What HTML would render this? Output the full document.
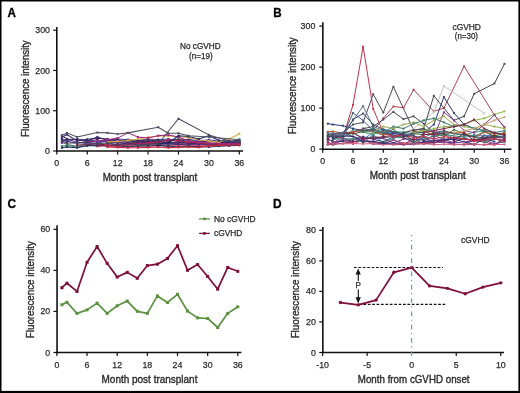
<!DOCTYPE html>
<html><head><meta charset="utf-8"><style>
html,body{margin:0;padding:0;background:#fff;width:520px;height:393px;overflow:hidden;}
svg{display:block;font-family:"Liberation Sans", sans-serif;will-change:transform;}
</style></head><body>
<svg width="520" height="393" viewBox="0 0 520 393" font-family='"Liberation Sans", sans-serif'>
<rect x="0" y="0" width="520" height="393" fill="#fff"/>
<polyline points="117.64,140.93 127.78,139.72 137.92,140.53 148.06,138.92 158.2,139.72 168.34,140.53 178.48,138.92 188.62,139.72 198.76,142.14 208.9,142.95 219.04,143.35 229.18,142.95 239.32,141.34" fill="none" stroke="#7a7a5a" stroke-width="1.05" stroke-linejoin="round" opacity="1.0"/>
<rect x="116.64" y="139.93" width="2" height="2" fill="#7a7a5a" opacity="1.0"/>
<rect x="126.78" y="138.72" width="2" height="2" fill="#7a7a5a" opacity="1.0"/>
<rect x="136.92" y="139.53" width="2" height="2" fill="#7a7a5a" opacity="1.0"/>
<rect x="147.06" y="137.92" width="2" height="2" fill="#7a7a5a" opacity="1.0"/>
<rect x="157.2" y="138.72" width="2" height="2" fill="#7a7a5a" opacity="1.0"/>
<rect x="167.34" y="139.53" width="2" height="2" fill="#7a7a5a" opacity="1.0"/>
<rect x="177.48" y="137.92" width="2" height="2" fill="#7a7a5a" opacity="1.0"/>
<rect x="187.62" y="138.72" width="2" height="2" fill="#7a7a5a" opacity="1.0"/>
<rect x="197.76" y="141.14" width="2" height="2" fill="#7a7a5a" opacity="1.0"/>
<rect x="207.9" y="141.95" width="2" height="2" fill="#7a7a5a" opacity="1.0"/>
<rect x="218.04" y="142.35" width="2" height="2" fill="#7a7a5a" opacity="1.0"/>
<rect x="228.18" y="141.95" width="2" height="2" fill="#7a7a5a" opacity="1.0"/>
<rect x="238.32" y="140.34" width="2" height="2" fill="#7a7a5a" opacity="1.0"/>
<polyline points="61.87,142.14 66.94,144.56 77.08,146.17 87.22,144.15 97.36,145.36 107.5,143.75 117.64,144.96 127.78,144.56 137.92,143.75 148.06,145.36 158.2,144.56 168.34,144.96 178.48,144.15 188.62,145.36 198.76,144.96 208.9,144.56 219.04,145.76 229.18,145.36 239.32,144.56" fill="none" stroke="#606070" stroke-width="1.05" stroke-linejoin="round" opacity="1.0"/>
<rect x="60.87" y="141.14" width="2" height="2" fill="#606070" opacity="1.0"/>
<rect x="65.94" y="143.56" width="2" height="2" fill="#606070" opacity="1.0"/>
<rect x="76.08" y="145.17" width="2" height="2" fill="#606070" opacity="1.0"/>
<rect x="86.22" y="143.15" width="2" height="2" fill="#606070" opacity="1.0"/>
<rect x="96.36" y="144.36" width="2" height="2" fill="#606070" opacity="1.0"/>
<rect x="106.5" y="142.75" width="2" height="2" fill="#606070" opacity="1.0"/>
<rect x="116.64" y="143.96" width="2" height="2" fill="#606070" opacity="1.0"/>
<rect x="126.78" y="143.56" width="2" height="2" fill="#606070" opacity="1.0"/>
<rect x="136.92" y="142.75" width="2" height="2" fill="#606070" opacity="1.0"/>
<rect x="147.06" y="144.36" width="2" height="2" fill="#606070" opacity="1.0"/>
<rect x="157.2" y="143.56" width="2" height="2" fill="#606070" opacity="1.0"/>
<rect x="167.34" y="143.96" width="2" height="2" fill="#606070" opacity="1.0"/>
<rect x="177.48" y="143.15" width="2" height="2" fill="#606070" opacity="1.0"/>
<rect x="187.62" y="144.36" width="2" height="2" fill="#606070" opacity="1.0"/>
<rect x="197.76" y="143.96" width="2" height="2" fill="#606070" opacity="1.0"/>
<rect x="207.9" y="143.56" width="2" height="2" fill="#606070" opacity="1.0"/>
<rect x="218.04" y="144.76" width="2" height="2" fill="#606070" opacity="1.0"/>
<rect x="228.18" y="144.36" width="2" height="2" fill="#606070" opacity="1.0"/>
<rect x="238.32" y="143.56" width="2" height="2" fill="#606070" opacity="1.0"/>
<polyline points="61.87,146.17 66.94,145.36 77.08,146.97 87.22,145.36 97.36,146.17 107.5,144.96 117.64,146.17 127.78,145.36 137.92,146.17 148.06,144.96 158.2,145.76 178.48,145.36 198.76,146.17 208.9,144.96 229.18,142.14 239.32,139.32" fill="none" stroke="#3a8a70" stroke-width="1.05" stroke-linejoin="round" opacity="1.0"/>
<rect x="60.87" y="145.17" width="2" height="2" fill="#3a8a70" opacity="1.0"/>
<rect x="65.94" y="144.36" width="2" height="2" fill="#3a8a70" opacity="1.0"/>
<rect x="76.08" y="145.97" width="2" height="2" fill="#3a8a70" opacity="1.0"/>
<rect x="86.22" y="144.36" width="2" height="2" fill="#3a8a70" opacity="1.0"/>
<rect x="96.36" y="145.17" width="2" height="2" fill="#3a8a70" opacity="1.0"/>
<rect x="106.5" y="143.96" width="2" height="2" fill="#3a8a70" opacity="1.0"/>
<rect x="116.64" y="145.17" width="2" height="2" fill="#3a8a70" opacity="1.0"/>
<rect x="126.78" y="144.36" width="2" height="2" fill="#3a8a70" opacity="1.0"/>
<rect x="136.92" y="145.17" width="2" height="2" fill="#3a8a70" opacity="1.0"/>
<rect x="147.06" y="143.96" width="2" height="2" fill="#3a8a70" opacity="1.0"/>
<rect x="157.2" y="144.76" width="2" height="2" fill="#3a8a70" opacity="1.0"/>
<rect x="177.48" y="144.36" width="2" height="2" fill="#3a8a70" opacity="1.0"/>
<rect x="197.76" y="145.17" width="2" height="2" fill="#3a8a70" opacity="1.0"/>
<rect x="207.9" y="143.96" width="2" height="2" fill="#3a8a70" opacity="1.0"/>
<rect x="228.18" y="141.14" width="2" height="2" fill="#3a8a70" opacity="1.0"/>
<rect x="238.32" y="138.32" width="2" height="2" fill="#3a8a70" opacity="1.0"/>
<polyline points="117.64,146.17 127.78,145.36 137.92,146.17 148.06,145.76 158.2,144.96 168.34,146.17 178.48,145.36 188.62,146.17 198.76,145.36 208.9,145.76 219.04,144.96 229.18,144.56 239.32,144.15" fill="none" stroke="#e06080" stroke-width="1.05" stroke-linejoin="round" opacity="1.0"/>
<rect x="116.64" y="145.17" width="2" height="2" fill="#e06080" opacity="1.0"/>
<rect x="126.78" y="144.36" width="2" height="2" fill="#e06080" opacity="1.0"/>
<rect x="136.92" y="145.17" width="2" height="2" fill="#e06080" opacity="1.0"/>
<rect x="147.06" y="144.76" width="2" height="2" fill="#e06080" opacity="1.0"/>
<rect x="157.2" y="143.96" width="2" height="2" fill="#e06080" opacity="1.0"/>
<rect x="167.34" y="145.17" width="2" height="2" fill="#e06080" opacity="1.0"/>
<rect x="177.48" y="144.36" width="2" height="2" fill="#e06080" opacity="1.0"/>
<rect x="187.62" y="145.17" width="2" height="2" fill="#e06080" opacity="1.0"/>
<rect x="197.76" y="144.36" width="2" height="2" fill="#e06080" opacity="1.0"/>
<rect x="207.9" y="144.76" width="2" height="2" fill="#e06080" opacity="1.0"/>
<rect x="218.04" y="143.96" width="2" height="2" fill="#e06080" opacity="1.0"/>
<rect x="228.18" y="143.56" width="2" height="2" fill="#e06080" opacity="1.0"/>
<rect x="238.32" y="143.15" width="2" height="2" fill="#e06080" opacity="1.0"/>
<polyline points="127.78,142.95 137.92,142.14 148.06,140.93 158.2,142.14 168.34,140.53 178.48,141.34 188.62,142.95 198.76,142.14 208.9,143.75 219.04,142.95 229.18,141.34 239.32,140.93" fill="none" stroke="#7a4a3a" stroke-width="1.05" stroke-linejoin="round" opacity="1.0"/>
<rect x="126.78" y="141.95" width="2" height="2" fill="#7a4a3a" opacity="1.0"/>
<rect x="136.92" y="141.14" width="2" height="2" fill="#7a4a3a" opacity="1.0"/>
<rect x="147.06" y="139.93" width="2" height="2" fill="#7a4a3a" opacity="1.0"/>
<rect x="157.2" y="141.14" width="2" height="2" fill="#7a4a3a" opacity="1.0"/>
<rect x="167.34" y="139.53" width="2" height="2" fill="#7a4a3a" opacity="1.0"/>
<rect x="177.48" y="140.34" width="2" height="2" fill="#7a4a3a" opacity="1.0"/>
<rect x="187.62" y="141.95" width="2" height="2" fill="#7a4a3a" opacity="1.0"/>
<rect x="197.76" y="141.14" width="2" height="2" fill="#7a4a3a" opacity="1.0"/>
<rect x="207.9" y="142.75" width="2" height="2" fill="#7a4a3a" opacity="1.0"/>
<rect x="218.04" y="141.95" width="2" height="2" fill="#7a4a3a" opacity="1.0"/>
<rect x="228.18" y="140.34" width="2" height="2" fill="#7a4a3a" opacity="1.0"/>
<rect x="238.32" y="139.93" width="2" height="2" fill="#7a4a3a" opacity="1.0"/>
<polyline points="77.08,144.96 87.22,144.56 97.36,143.75 107.5,145.36 117.64,144.56 127.78,143.75 137.92,144.96 148.06,144.15 158.2,143.35 168.34,142.54 178.48,143.75 188.62,144.56 198.76,144.15 208.9,144.96 219.04,145.36 229.18,144.56 239.32,143.75" fill="none" stroke="#802040" stroke-width="1.05" stroke-linejoin="round" opacity="1.0"/>
<rect x="76.08" y="143.96" width="2" height="2" fill="#802040" opacity="1.0"/>
<rect x="86.22" y="143.56" width="2" height="2" fill="#802040" opacity="1.0"/>
<rect x="96.36" y="142.75" width="2" height="2" fill="#802040" opacity="1.0"/>
<rect x="106.5" y="144.36" width="2" height="2" fill="#802040" opacity="1.0"/>
<rect x="116.64" y="143.56" width="2" height="2" fill="#802040" opacity="1.0"/>
<rect x="126.78" y="142.75" width="2" height="2" fill="#802040" opacity="1.0"/>
<rect x="136.92" y="143.96" width="2" height="2" fill="#802040" opacity="1.0"/>
<rect x="147.06" y="143.15" width="2" height="2" fill="#802040" opacity="1.0"/>
<rect x="157.2" y="142.35" width="2" height="2" fill="#802040" opacity="1.0"/>
<rect x="167.34" y="141.54" width="2" height="2" fill="#802040" opacity="1.0"/>
<rect x="177.48" y="142.75" width="2" height="2" fill="#802040" opacity="1.0"/>
<rect x="187.62" y="143.56" width="2" height="2" fill="#802040" opacity="1.0"/>
<rect x="197.76" y="143.15" width="2" height="2" fill="#802040" opacity="1.0"/>
<rect x="207.9" y="143.96" width="2" height="2" fill="#802040" opacity="1.0"/>
<rect x="218.04" y="144.36" width="2" height="2" fill="#802040" opacity="1.0"/>
<rect x="228.18" y="143.56" width="2" height="2" fill="#802040" opacity="1.0"/>
<rect x="238.32" y="142.75" width="2" height="2" fill="#802040" opacity="1.0"/>
<polyline points="61.87,147.78 66.94,146.97 77.08,147.78 87.22,145.76 97.36,144.96 107.5,146.17 117.64,145.36 127.78,146.97 137.92,145.76 148.06,146.17 158.2,145.36 168.34,146.17 178.48,146.97 188.62,146.17 198.76,146.57 208.9,146.97 219.04,146.17 229.18,145.76 239.32,145.36" fill="none" stroke="#2a2a5a" stroke-width="1.05" stroke-linejoin="round" opacity="1.0"/>
<rect x="60.87" y="146.78" width="2" height="2" fill="#2a2a5a" opacity="1.0"/>
<rect x="65.94" y="145.97" width="2" height="2" fill="#2a2a5a" opacity="1.0"/>
<rect x="76.08" y="146.78" width="2" height="2" fill="#2a2a5a" opacity="1.0"/>
<rect x="86.22" y="144.76" width="2" height="2" fill="#2a2a5a" opacity="1.0"/>
<rect x="96.36" y="143.96" width="2" height="2" fill="#2a2a5a" opacity="1.0"/>
<rect x="106.5" y="145.17" width="2" height="2" fill="#2a2a5a" opacity="1.0"/>
<rect x="116.64" y="144.36" width="2" height="2" fill="#2a2a5a" opacity="1.0"/>
<rect x="126.78" y="145.97" width="2" height="2" fill="#2a2a5a" opacity="1.0"/>
<rect x="136.92" y="144.76" width="2" height="2" fill="#2a2a5a" opacity="1.0"/>
<rect x="147.06" y="145.17" width="2" height="2" fill="#2a2a5a" opacity="1.0"/>
<rect x="157.2" y="144.36" width="2" height="2" fill="#2a2a5a" opacity="1.0"/>
<rect x="167.34" y="145.17" width="2" height="2" fill="#2a2a5a" opacity="1.0"/>
<rect x="177.48" y="145.97" width="2" height="2" fill="#2a2a5a" opacity="1.0"/>
<rect x="187.62" y="145.17" width="2" height="2" fill="#2a2a5a" opacity="1.0"/>
<rect x="197.76" y="145.57" width="2" height="2" fill="#2a2a5a" opacity="1.0"/>
<rect x="207.9" y="145.97" width="2" height="2" fill="#2a2a5a" opacity="1.0"/>
<rect x="218.04" y="145.17" width="2" height="2" fill="#2a2a5a" opacity="1.0"/>
<rect x="228.18" y="144.76" width="2" height="2" fill="#2a2a5a" opacity="1.0"/>
<rect x="238.32" y="144.36" width="2" height="2" fill="#2a2a5a" opacity="1.0"/>
<polyline points="61.87,142.95 66.94,138.92 77.08,142.14 87.22,143.75 97.36,142.95 107.5,140.93 117.64,142.14 127.78,142.95 137.92,143.75 158.2,142.95 178.48,143.75 198.76,144.56 219.04,143.75 239.32,144.15" fill="none" stroke="#6a3a90" stroke-width="1.05" stroke-linejoin="round" opacity="1.0"/>
<rect x="60.87" y="141.95" width="2" height="2" fill="#6a3a90" opacity="1.0"/>
<rect x="65.94" y="137.92" width="2" height="2" fill="#6a3a90" opacity="1.0"/>
<rect x="76.08" y="141.14" width="2" height="2" fill="#6a3a90" opacity="1.0"/>
<rect x="86.22" y="142.75" width="2" height="2" fill="#6a3a90" opacity="1.0"/>
<rect x="96.36" y="141.95" width="2" height="2" fill="#6a3a90" opacity="1.0"/>
<rect x="106.5" y="139.93" width="2" height="2" fill="#6a3a90" opacity="1.0"/>
<rect x="116.64" y="141.14" width="2" height="2" fill="#6a3a90" opacity="1.0"/>
<rect x="126.78" y="141.95" width="2" height="2" fill="#6a3a90" opacity="1.0"/>
<rect x="136.92" y="142.75" width="2" height="2" fill="#6a3a90" opacity="1.0"/>
<rect x="157.2" y="141.95" width="2" height="2" fill="#6a3a90" opacity="1.0"/>
<rect x="177.48" y="142.75" width="2" height="2" fill="#6a3a90" opacity="1.0"/>
<rect x="197.76" y="143.56" width="2" height="2" fill="#6a3a90" opacity="1.0"/>
<rect x="218.04" y="142.75" width="2" height="2" fill="#6a3a90" opacity="1.0"/>
<rect x="238.32" y="143.15" width="2" height="2" fill="#6a3a90" opacity="1.0"/>
<polyline points="61.87,139.72 66.94,141.34 77.08,143.35 87.22,141.34 97.36,139.72 107.5,142.14 117.64,142.95 127.78,143.75 137.92,142.95 148.06,142.14 158.2,144.15 168.34,143.75 178.48,144.56 188.62,143.75 198.76,142.95 208.9,144.96 219.04,144.15 229.18,143.75 239.32,142.95" fill="none" stroke="#4a2a70" stroke-width="1.05" stroke-linejoin="round" opacity="1.0"/>
<rect x="60.87" y="138.72" width="2" height="2" fill="#4a2a70" opacity="1.0"/>
<rect x="65.94" y="140.34" width="2" height="2" fill="#4a2a70" opacity="1.0"/>
<rect x="76.08" y="142.35" width="2" height="2" fill="#4a2a70" opacity="1.0"/>
<rect x="86.22" y="140.34" width="2" height="2" fill="#4a2a70" opacity="1.0"/>
<rect x="96.36" y="138.72" width="2" height="2" fill="#4a2a70" opacity="1.0"/>
<rect x="106.5" y="141.14" width="2" height="2" fill="#4a2a70" opacity="1.0"/>
<rect x="116.64" y="141.95" width="2" height="2" fill="#4a2a70" opacity="1.0"/>
<rect x="126.78" y="142.75" width="2" height="2" fill="#4a2a70" opacity="1.0"/>
<rect x="136.92" y="141.95" width="2" height="2" fill="#4a2a70" opacity="1.0"/>
<rect x="147.06" y="141.14" width="2" height="2" fill="#4a2a70" opacity="1.0"/>
<rect x="157.2" y="143.15" width="2" height="2" fill="#4a2a70" opacity="1.0"/>
<rect x="167.34" y="142.75" width="2" height="2" fill="#4a2a70" opacity="1.0"/>
<rect x="177.48" y="143.56" width="2" height="2" fill="#4a2a70" opacity="1.0"/>
<rect x="187.62" y="142.75" width="2" height="2" fill="#4a2a70" opacity="1.0"/>
<rect x="197.76" y="141.95" width="2" height="2" fill="#4a2a70" opacity="1.0"/>
<rect x="207.9" y="143.96" width="2" height="2" fill="#4a2a70" opacity="1.0"/>
<rect x="218.04" y="143.15" width="2" height="2" fill="#4a2a70" opacity="1.0"/>
<rect x="228.18" y="142.75" width="2" height="2" fill="#4a2a70" opacity="1.0"/>
<rect x="238.32" y="141.95" width="2" height="2" fill="#4a2a70" opacity="1.0"/>
<polyline points="61.87,138.92 66.94,140.53 77.08,138.92 87.22,140.53 97.36,142.14 107.5,140.13 117.64,138.92 127.78,139.72 137.92,140.13 148.06,141.34 158.2,139.72 168.34,138.92 178.48,140.53 188.62,139.32 198.76,140.93 208.9,139.72 219.04,141.34 229.18,142.14 239.32,140.53" fill="none" stroke="#3a3a8a" stroke-width="1.05" stroke-linejoin="round" opacity="1.0"/>
<rect x="60.87" y="137.92" width="2" height="2" fill="#3a3a8a" opacity="1.0"/>
<rect x="65.94" y="139.53" width="2" height="2" fill="#3a3a8a" opacity="1.0"/>
<rect x="76.08" y="137.92" width="2" height="2" fill="#3a3a8a" opacity="1.0"/>
<rect x="86.22" y="139.53" width="2" height="2" fill="#3a3a8a" opacity="1.0"/>
<rect x="96.36" y="141.14" width="2" height="2" fill="#3a3a8a" opacity="1.0"/>
<rect x="106.5" y="139.13" width="2" height="2" fill="#3a3a8a" opacity="1.0"/>
<rect x="116.64" y="137.92" width="2" height="2" fill="#3a3a8a" opacity="1.0"/>
<rect x="126.78" y="138.72" width="2" height="2" fill="#3a3a8a" opacity="1.0"/>
<rect x="136.92" y="139.13" width="2" height="2" fill="#3a3a8a" opacity="1.0"/>
<rect x="147.06" y="140.34" width="2" height="2" fill="#3a3a8a" opacity="1.0"/>
<rect x="157.2" y="138.72" width="2" height="2" fill="#3a3a8a" opacity="1.0"/>
<rect x="167.34" y="137.92" width="2" height="2" fill="#3a3a8a" opacity="1.0"/>
<rect x="177.48" y="139.53" width="2" height="2" fill="#3a3a8a" opacity="1.0"/>
<rect x="187.62" y="138.32" width="2" height="2" fill="#3a3a8a" opacity="1.0"/>
<rect x="197.76" y="139.93" width="2" height="2" fill="#3a3a8a" opacity="1.0"/>
<rect x="207.9" y="138.72" width="2" height="2" fill="#3a3a8a" opacity="1.0"/>
<rect x="218.04" y="140.34" width="2" height="2" fill="#3a3a8a" opacity="1.0"/>
<rect x="228.18" y="141.14" width="2" height="2" fill="#3a3a8a" opacity="1.0"/>
<rect x="238.32" y="139.53" width="2" height="2" fill="#3a3a8a" opacity="1.0"/>
<polyline points="61.87,135.7 66.94,138.92 77.08,139.72 87.22,140.93 97.36,136.91 107.5,140.53 117.64,139.72 127.78,142.14 137.92,140.93 148.06,139.72 158.2,140.53 168.34,141.34 178.48,139.72 188.62,141.34 198.76,142.14 208.9,140.93 219.04,142.14 229.18,142.95 239.32,142.54" fill="none" stroke="#3a2a60" stroke-width="1.05" stroke-linejoin="round" opacity="1.0"/>
<rect x="60.87" y="134.7" width="2" height="2" fill="#3a2a60" opacity="1.0"/>
<rect x="65.94" y="137.92" width="2" height="2" fill="#3a2a60" opacity="1.0"/>
<rect x="76.08" y="138.72" width="2" height="2" fill="#3a2a60" opacity="1.0"/>
<rect x="86.22" y="139.93" width="2" height="2" fill="#3a2a60" opacity="1.0"/>
<rect x="96.36" y="135.91" width="2" height="2" fill="#3a2a60" opacity="1.0"/>
<rect x="106.5" y="139.53" width="2" height="2" fill="#3a2a60" opacity="1.0"/>
<rect x="116.64" y="138.72" width="2" height="2" fill="#3a2a60" opacity="1.0"/>
<rect x="126.78" y="141.14" width="2" height="2" fill="#3a2a60" opacity="1.0"/>
<rect x="136.92" y="139.93" width="2" height="2" fill="#3a2a60" opacity="1.0"/>
<rect x="147.06" y="138.72" width="2" height="2" fill="#3a2a60" opacity="1.0"/>
<rect x="157.2" y="139.53" width="2" height="2" fill="#3a2a60" opacity="1.0"/>
<rect x="167.34" y="140.34" width="2" height="2" fill="#3a2a60" opacity="1.0"/>
<rect x="177.48" y="138.72" width="2" height="2" fill="#3a2a60" opacity="1.0"/>
<rect x="187.62" y="140.34" width="2" height="2" fill="#3a2a60" opacity="1.0"/>
<rect x="197.76" y="141.14" width="2" height="2" fill="#3a2a60" opacity="1.0"/>
<rect x="207.9" y="139.93" width="2" height="2" fill="#3a2a60" opacity="1.0"/>
<rect x="218.04" y="141.14" width="2" height="2" fill="#3a2a60" opacity="1.0"/>
<rect x="228.18" y="141.95" width="2" height="2" fill="#3a2a60" opacity="1.0"/>
<rect x="238.32" y="141.54" width="2" height="2" fill="#3a2a60" opacity="1.0"/>
<polyline points="61.87,137.31 66.94,134.49 77.08,140.93 87.22,139.32 97.36,138.11 107.5,138.92 117.64,141.34 127.78,140.53 137.92,142.14 148.06,140.93 158.2,141.74 168.34,142.95 178.48,142.14 188.62,142.95 198.76,143.75 208.9,142.95 219.04,143.75 229.18,142.95 239.32,142.14" fill="none" stroke="#3d2a66" stroke-width="1.05" stroke-linejoin="round" opacity="1.0"/>
<rect x="60.87" y="136.31" width="2" height="2" fill="#3d2a66" opacity="1.0"/>
<rect x="65.94" y="133.49" width="2" height="2" fill="#3d2a66" opacity="1.0"/>
<rect x="76.08" y="139.93" width="2" height="2" fill="#3d2a66" opacity="1.0"/>
<rect x="86.22" y="138.32" width="2" height="2" fill="#3d2a66" opacity="1.0"/>
<rect x="96.36" y="137.11" width="2" height="2" fill="#3d2a66" opacity="1.0"/>
<rect x="106.5" y="137.92" width="2" height="2" fill="#3d2a66" opacity="1.0"/>
<rect x="116.64" y="140.34" width="2" height="2" fill="#3d2a66" opacity="1.0"/>
<rect x="126.78" y="139.53" width="2" height="2" fill="#3d2a66" opacity="1.0"/>
<rect x="136.92" y="141.14" width="2" height="2" fill="#3d2a66" opacity="1.0"/>
<rect x="147.06" y="139.93" width="2" height="2" fill="#3d2a66" opacity="1.0"/>
<rect x="157.2" y="140.74" width="2" height="2" fill="#3d2a66" opacity="1.0"/>
<rect x="167.34" y="141.95" width="2" height="2" fill="#3d2a66" opacity="1.0"/>
<rect x="177.48" y="141.14" width="2" height="2" fill="#3d2a66" opacity="1.0"/>
<rect x="187.62" y="141.95" width="2" height="2" fill="#3d2a66" opacity="1.0"/>
<rect x="197.76" y="142.75" width="2" height="2" fill="#3d2a66" opacity="1.0"/>
<rect x="207.9" y="141.95" width="2" height="2" fill="#3d2a66" opacity="1.0"/>
<rect x="218.04" y="142.75" width="2" height="2" fill="#3d2a66" opacity="1.0"/>
<rect x="228.18" y="141.95" width="2" height="2" fill="#3d2a66" opacity="1.0"/>
<rect x="238.32" y="141.14" width="2" height="2" fill="#3d2a66" opacity="1.0"/>
<polyline points="97.36,146.17 107.5,145.36 117.64,146.17 127.78,144.56 137.92,143.75 148.06,142.95 158.2,142.14 168.34,139.72 178.48,140.93 188.62,142.14 198.76,142.95 208.9,143.75 219.04,144.15 229.18,143.75 239.32,143.35" fill="none" stroke="#b02050" stroke-width="1.05" stroke-linejoin="round" opacity="1.0"/>
<rect x="96.36" y="145.17" width="2" height="2" fill="#b02050" opacity="1.0"/>
<rect x="106.5" y="144.36" width="2" height="2" fill="#b02050" opacity="1.0"/>
<rect x="116.64" y="145.17" width="2" height="2" fill="#b02050" opacity="1.0"/>
<rect x="126.78" y="143.56" width="2" height="2" fill="#b02050" opacity="1.0"/>
<rect x="136.92" y="142.75" width="2" height="2" fill="#b02050" opacity="1.0"/>
<rect x="147.06" y="141.95" width="2" height="2" fill="#b02050" opacity="1.0"/>
<rect x="157.2" y="141.14" width="2" height="2" fill="#b02050" opacity="1.0"/>
<rect x="167.34" y="138.72" width="2" height="2" fill="#b02050" opacity="1.0"/>
<rect x="177.48" y="139.93" width="2" height="2" fill="#b02050" opacity="1.0"/>
<rect x="187.62" y="141.14" width="2" height="2" fill="#b02050" opacity="1.0"/>
<rect x="197.76" y="141.95" width="2" height="2" fill="#b02050" opacity="1.0"/>
<rect x="207.9" y="142.75" width="2" height="2" fill="#b02050" opacity="1.0"/>
<rect x="218.04" y="143.15" width="2" height="2" fill="#b02050" opacity="1.0"/>
<rect x="228.18" y="142.75" width="2" height="2" fill="#b02050" opacity="1.0"/>
<rect x="238.32" y="142.35" width="2" height="2" fill="#b02050" opacity="1.0"/>
<polyline points="107.5,146.97 117.64,147.38 127.78,147.78 137.92,147.78 148.06,147.38 158.2,146.97 168.34,147.78 178.48,147.38 188.62,146.97 198.76,147.38 208.9,146.17 219.04,145.36 229.18,144.96 239.32,144.96" fill="none" stroke="#c8283a" stroke-width="1.05" stroke-linejoin="round" opacity="1.0"/>
<rect x="106.5" y="145.97" width="2" height="2" fill="#c8283a" opacity="1.0"/>
<rect x="116.64" y="146.38" width="2" height="2" fill="#c8283a" opacity="1.0"/>
<rect x="126.78" y="146.78" width="2" height="2" fill="#c8283a" opacity="1.0"/>
<rect x="136.92" y="146.78" width="2" height="2" fill="#c8283a" opacity="1.0"/>
<rect x="147.06" y="146.38" width="2" height="2" fill="#c8283a" opacity="1.0"/>
<rect x="157.2" y="145.97" width="2" height="2" fill="#c8283a" opacity="1.0"/>
<rect x="167.34" y="146.78" width="2" height="2" fill="#c8283a" opacity="1.0"/>
<rect x="177.48" y="146.38" width="2" height="2" fill="#c8283a" opacity="1.0"/>
<rect x="187.62" y="145.97" width="2" height="2" fill="#c8283a" opacity="1.0"/>
<rect x="197.76" y="146.38" width="2" height="2" fill="#c8283a" opacity="1.0"/>
<rect x="207.9" y="145.17" width="2" height="2" fill="#c8283a" opacity="1.0"/>
<rect x="218.04" y="144.36" width="2" height="2" fill="#c8283a" opacity="1.0"/>
<rect x="228.18" y="143.96" width="2" height="2" fill="#c8283a" opacity="1.0"/>
<rect x="238.32" y="143.96" width="2" height="2" fill="#c8283a" opacity="1.0"/>
<polyline points="107.5,142.14 117.64,141.34 127.78,140.53 137.92,138.92 148.06,137.31 158.2,135.7 168.34,136.1 178.48,136.5 188.62,137.71 198.76,139.72 208.9,140.93 219.04,142.14 229.18,138.92 239.32,133.68" fill="none" stroke="#e0a848" stroke-width="1.05" stroke-linejoin="round" opacity="1.0"/>
<rect x="106.5" y="141.14" width="2" height="2" fill="#e0a848" opacity="1.0"/>
<rect x="116.64" y="140.34" width="2" height="2" fill="#e0a848" opacity="1.0"/>
<rect x="126.78" y="139.53" width="2" height="2" fill="#e0a848" opacity="1.0"/>
<rect x="136.92" y="137.92" width="2" height="2" fill="#e0a848" opacity="1.0"/>
<rect x="147.06" y="136.31" width="2" height="2" fill="#e0a848" opacity="1.0"/>
<rect x="157.2" y="134.7" width="2" height="2" fill="#e0a848" opacity="1.0"/>
<rect x="167.34" y="135.1" width="2" height="2" fill="#e0a848" opacity="1.0"/>
<rect x="177.48" y="135.5" width="2" height="2" fill="#e0a848" opacity="1.0"/>
<rect x="187.62" y="136.71" width="2" height="2" fill="#e0a848" opacity="1.0"/>
<rect x="197.76" y="138.72" width="2" height="2" fill="#e0a848" opacity="1.0"/>
<rect x="207.9" y="139.93" width="2" height="2" fill="#e0a848" opacity="1.0"/>
<rect x="218.04" y="141.14" width="2" height="2" fill="#e0a848" opacity="1.0"/>
<rect x="228.18" y="137.92" width="2" height="2" fill="#e0a848" opacity="1.0"/>
<rect x="238.32" y="132.68" width="2" height="2" fill="#e0a848" opacity="1.0"/>
<polyline points="87.22,142.14 97.36,140.93 107.5,139.72 117.64,138.11 127.78,132.88 137.92,136.91 148.06,138.11 158.2,135.7 168.34,134.89 178.48,136.91 188.62,140.93 198.76,142.14 208.9,142.95 229.18,143.75 239.32,142.95" fill="none" stroke="#a02880" stroke-width="1.05" stroke-linejoin="round" opacity="1.0"/>
<rect x="86.22" y="141.14" width="2" height="2" fill="#a02880" opacity="1.0"/>
<rect x="96.36" y="139.93" width="2" height="2" fill="#a02880" opacity="1.0"/>
<rect x="106.5" y="138.72" width="2" height="2" fill="#a02880" opacity="1.0"/>
<rect x="116.64" y="137.11" width="2" height="2" fill="#a02880" opacity="1.0"/>
<rect x="126.78" y="131.88" width="2" height="2" fill="#a02880" opacity="1.0"/>
<rect x="136.92" y="135.91" width="2" height="2" fill="#a02880" opacity="1.0"/>
<rect x="147.06" y="137.11" width="2" height="2" fill="#a02880" opacity="1.0"/>
<rect x="157.2" y="134.7" width="2" height="2" fill="#a02880" opacity="1.0"/>
<rect x="167.34" y="133.89" width="2" height="2" fill="#a02880" opacity="1.0"/>
<rect x="177.48" y="135.91" width="2" height="2" fill="#a02880" opacity="1.0"/>
<rect x="187.62" y="139.93" width="2" height="2" fill="#a02880" opacity="1.0"/>
<rect x="197.76" y="141.14" width="2" height="2" fill="#a02880" opacity="1.0"/>
<rect x="207.9" y="141.95" width="2" height="2" fill="#a02880" opacity="1.0"/>
<rect x="228.18" y="142.75" width="2" height="2" fill="#a02880" opacity="1.0"/>
<rect x="238.32" y="141.95" width="2" height="2" fill="#a02880" opacity="1.0"/>
<polyline points="158.2,143.75 168.34,142.95 178.48,135.7 188.62,136.5 198.76,138.92 208.9,135.7 219.04,140.53 229.18,141.34 239.32,140.93" fill="none" stroke="#202860" stroke-width="1.05" stroke-linejoin="round" opacity="1.0"/>
<rect x="157.2" y="142.75" width="2" height="2" fill="#202860" opacity="1.0"/>
<rect x="167.34" y="141.95" width="2" height="2" fill="#202860" opacity="1.0"/>
<rect x="177.48" y="134.7" width="2" height="2" fill="#202860" opacity="1.0"/>
<rect x="187.62" y="135.5" width="2" height="2" fill="#202860" opacity="1.0"/>
<rect x="197.76" y="137.92" width="2" height="2" fill="#202860" opacity="1.0"/>
<rect x="207.9" y="134.7" width="2" height="2" fill="#202860" opacity="1.0"/>
<rect x="218.04" y="139.53" width="2" height="2" fill="#202860" opacity="1.0"/>
<rect x="228.18" y="140.34" width="2" height="2" fill="#202860" opacity="1.0"/>
<rect x="238.32" y="139.93" width="2" height="2" fill="#202860" opacity="1.0"/>
<polyline points="61.87,140.93 66.94,142.95 77.08,142.95 87.22,142.14 97.36,143.75 107.5,142.95 117.64,144.56 137.92,144.96 158.2,143.75 178.48,118.78 208.9,134.89 229.18,140.93 239.32,142.14" fill="none" stroke="#45455a" stroke-width="1.05" stroke-linejoin="round" opacity="1.0"/>
<rect x="60.87" y="139.93" width="2" height="2" fill="#45455a" opacity="1.0"/>
<rect x="65.94" y="141.95" width="2" height="2" fill="#45455a" opacity="1.0"/>
<rect x="76.08" y="141.95" width="2" height="2" fill="#45455a" opacity="1.0"/>
<rect x="86.22" y="141.14" width="2" height="2" fill="#45455a" opacity="1.0"/>
<rect x="96.36" y="142.75" width="2" height="2" fill="#45455a" opacity="1.0"/>
<rect x="106.5" y="141.95" width="2" height="2" fill="#45455a" opacity="1.0"/>
<rect x="116.64" y="143.56" width="2" height="2" fill="#45455a" opacity="1.0"/>
<rect x="136.92" y="143.96" width="2" height="2" fill="#45455a" opacity="1.0"/>
<rect x="157.2" y="142.75" width="2" height="2" fill="#45455a" opacity="1.0"/>
<rect x="177.48" y="117.78" width="2" height="2" fill="#45455a" opacity="1.0"/>
<rect x="207.9" y="133.89" width="2" height="2" fill="#45455a" opacity="1.0"/>
<rect x="228.18" y="139.93" width="2" height="2" fill="#45455a" opacity="1.0"/>
<rect x="238.32" y="141.14" width="2" height="2" fill="#45455a" opacity="1.0"/>
<polyline points="61.87,135.29 66.94,132.88 77.08,136.91 97.36,132.48 107.5,132.88 117.64,134.09 127.78,132.88 158.2,127.24 168.34,133.28 178.48,133.28 188.62,135.7 208.9,136.91 239.32,139.72" fill="none" stroke="#505060" stroke-width="1.05" stroke-linejoin="round" opacity="1.0"/>
<rect x="60.87" y="134.29" width="2" height="2" fill="#505060" opacity="1.0"/>
<rect x="65.94" y="131.88" width="2" height="2" fill="#505060" opacity="1.0"/>
<rect x="76.08" y="135.91" width="2" height="2" fill="#505060" opacity="1.0"/>
<rect x="96.36" y="131.48" width="2" height="2" fill="#505060" opacity="1.0"/>
<rect x="106.5" y="131.88" width="2" height="2" fill="#505060" opacity="1.0"/>
<rect x="116.64" y="133.09" width="2" height="2" fill="#505060" opacity="1.0"/>
<rect x="126.78" y="131.88" width="2" height="2" fill="#505060" opacity="1.0"/>
<rect x="157.2" y="126.24" width="2" height="2" fill="#505060" opacity="1.0"/>
<rect x="167.34" y="132.28" width="2" height="2" fill="#505060" opacity="1.0"/>
<rect x="177.48" y="132.28" width="2" height="2" fill="#505060" opacity="1.0"/>
<rect x="187.62" y="134.7" width="2" height="2" fill="#505060" opacity="1.0"/>
<rect x="207.9" y="135.91" width="2" height="2" fill="#505060" opacity="1.0"/>
<rect x="238.32" y="138.72" width="2" height="2" fill="#505060" opacity="1.0"/>
<polyline points="327.75,135.91 332.8,133.68 342.9,137.74 353,129.69 373.2,134.7 383.3,129.57 393.4,131.83 403.5,131.95 413.6,133.77 423.7,129.5 433.8,136.97 443.9,132 464.1,135.4 474.2,131.95 484.3,131.45 494.4,136.56 504.5,136.22" fill="none" stroke="#40a080" stroke-width="1.0" stroke-linejoin="round" opacity="1.0"/>
<rect x="326.8" y="134.96" width="1.9" height="1.9" fill="#40a080" opacity="1.0"/>
<rect x="331.85" y="132.73" width="1.9" height="1.9" fill="#40a080" opacity="1.0"/>
<rect x="341.95" y="136.79" width="1.9" height="1.9" fill="#40a080" opacity="1.0"/>
<rect x="352.05" y="128.74" width="1.9" height="1.9" fill="#40a080" opacity="1.0"/>
<rect x="372.25" y="133.75" width="1.9" height="1.9" fill="#40a080" opacity="1.0"/>
<rect x="382.35" y="128.62" width="1.9" height="1.9" fill="#40a080" opacity="1.0"/>
<rect x="392.45" y="130.88" width="1.9" height="1.9" fill="#40a080" opacity="1.0"/>
<rect x="402.55" y="131" width="1.9" height="1.9" fill="#40a080" opacity="1.0"/>
<rect x="412.65" y="132.82" width="1.9" height="1.9" fill="#40a080" opacity="1.0"/>
<rect x="422.75" y="128.55" width="1.9" height="1.9" fill="#40a080" opacity="1.0"/>
<rect x="432.85" y="136.02" width="1.9" height="1.9" fill="#40a080" opacity="1.0"/>
<rect x="442.95" y="131.05" width="1.9" height="1.9" fill="#40a080" opacity="1.0"/>
<rect x="463.15" y="134.45" width="1.9" height="1.9" fill="#40a080" opacity="1.0"/>
<rect x="473.25" y="131" width="1.9" height="1.9" fill="#40a080" opacity="1.0"/>
<rect x="483.35" y="130.5" width="1.9" height="1.9" fill="#40a080" opacity="1.0"/>
<rect x="493.45" y="135.61" width="1.9" height="1.9" fill="#40a080" opacity="1.0"/>
<rect x="503.55" y="135.27" width="1.9" height="1.9" fill="#40a080" opacity="1.0"/>
<polyline points="327.75,144.39 332.8,144.59 342.9,140.37 353,142.03 363.1,140.61 383.3,143.96 393.4,140.19 403.5,143.2 423.7,142.52 433.8,142.7 443.9,141.19 454,144.3 464.1,144.59 474.2,144.59 484.3,144.59 494.4,144.59 504.5,139.85" fill="none" stroke="#b03060" stroke-width="1.0" stroke-linejoin="round" opacity="1.0"/>
<rect x="326.8" y="143.44" width="1.9" height="1.9" fill="#b03060" opacity="1.0"/>
<rect x="331.85" y="143.64" width="1.9" height="1.9" fill="#b03060" opacity="1.0"/>
<rect x="341.95" y="139.42" width="1.9" height="1.9" fill="#b03060" opacity="1.0"/>
<rect x="352.05" y="141.08" width="1.9" height="1.9" fill="#b03060" opacity="1.0"/>
<rect x="362.15" y="139.66" width="1.9" height="1.9" fill="#b03060" opacity="1.0"/>
<rect x="382.35" y="143.01" width="1.9" height="1.9" fill="#b03060" opacity="1.0"/>
<rect x="392.45" y="139.24" width="1.9" height="1.9" fill="#b03060" opacity="1.0"/>
<rect x="402.55" y="142.25" width="1.9" height="1.9" fill="#b03060" opacity="1.0"/>
<rect x="422.75" y="141.57" width="1.9" height="1.9" fill="#b03060" opacity="1.0"/>
<rect x="432.85" y="141.75" width="1.9" height="1.9" fill="#b03060" opacity="1.0"/>
<rect x="442.95" y="140.24" width="1.9" height="1.9" fill="#b03060" opacity="1.0"/>
<rect x="453.05" y="143.35" width="1.9" height="1.9" fill="#b03060" opacity="1.0"/>
<rect x="463.15" y="143.64" width="1.9" height="1.9" fill="#b03060" opacity="1.0"/>
<rect x="473.25" y="143.64" width="1.9" height="1.9" fill="#b03060" opacity="1.0"/>
<rect x="483.35" y="143.64" width="1.9" height="1.9" fill="#b03060" opacity="1.0"/>
<rect x="493.45" y="143.64" width="1.9" height="1.9" fill="#b03060" opacity="1.0"/>
<rect x="503.55" y="138.9" width="1.9" height="1.9" fill="#b03060" opacity="1.0"/>
<polyline points="327.75,138.7 332.8,142.15 342.9,141.25 353,140.01 363.1,136.71 383.3,141.74 393.4,136.93 403.5,137.45 413.6,142.59 423.7,137.34 433.8,142.54 454,142.23 464.1,138 474.2,141.21 484.3,135.45 494.4,139.03 504.5,140.44" fill="none" stroke="#303070" stroke-width="1.0" stroke-linejoin="round" opacity="1.0"/>
<rect x="326.8" y="137.75" width="1.9" height="1.9" fill="#303070" opacity="1.0"/>
<rect x="331.85" y="141.2" width="1.9" height="1.9" fill="#303070" opacity="1.0"/>
<rect x="341.95" y="140.3" width="1.9" height="1.9" fill="#303070" opacity="1.0"/>
<rect x="352.05" y="139.06" width="1.9" height="1.9" fill="#303070" opacity="1.0"/>
<rect x="362.15" y="135.76" width="1.9" height="1.9" fill="#303070" opacity="1.0"/>
<rect x="382.35" y="140.79" width="1.9" height="1.9" fill="#303070" opacity="1.0"/>
<rect x="392.45" y="135.98" width="1.9" height="1.9" fill="#303070" opacity="1.0"/>
<rect x="402.55" y="136.5" width="1.9" height="1.9" fill="#303070" opacity="1.0"/>
<rect x="412.65" y="141.64" width="1.9" height="1.9" fill="#303070" opacity="1.0"/>
<rect x="422.75" y="136.39" width="1.9" height="1.9" fill="#303070" opacity="1.0"/>
<rect x="432.85" y="141.59" width="1.9" height="1.9" fill="#303070" opacity="1.0"/>
<rect x="453.05" y="141.28" width="1.9" height="1.9" fill="#303070" opacity="1.0"/>
<rect x="463.15" y="137.05" width="1.9" height="1.9" fill="#303070" opacity="1.0"/>
<rect x="473.25" y="140.26" width="1.9" height="1.9" fill="#303070" opacity="1.0"/>
<rect x="483.35" y="134.5" width="1.9" height="1.9" fill="#303070" opacity="1.0"/>
<rect x="493.45" y="138.08" width="1.9" height="1.9" fill="#303070" opacity="1.0"/>
<rect x="503.55" y="139.49" width="1.9" height="1.9" fill="#303070" opacity="1.0"/>
<polyline points="327.75,144.2 332.8,142.77 342.9,137.13 353,144.06 363.1,139.9 373.2,141.68 383.3,143.96 393.4,139.8 403.5,144.59 413.6,144.43 443.9,141.99 454,144.59 464.1,144.59 474.2,140.22 484.3,138.71 504.5,137.49" fill="none" stroke="#a04a8a" stroke-width="1.0" stroke-linejoin="round" opacity="1.0"/>
<rect x="326.8" y="143.25" width="1.9" height="1.9" fill="#a04a8a" opacity="1.0"/>
<rect x="331.85" y="141.82" width="1.9" height="1.9" fill="#a04a8a" opacity="1.0"/>
<rect x="341.95" y="136.18" width="1.9" height="1.9" fill="#a04a8a" opacity="1.0"/>
<rect x="352.05" y="143.11" width="1.9" height="1.9" fill="#a04a8a" opacity="1.0"/>
<rect x="362.15" y="138.95" width="1.9" height="1.9" fill="#a04a8a" opacity="1.0"/>
<rect x="372.25" y="140.73" width="1.9" height="1.9" fill="#a04a8a" opacity="1.0"/>
<rect x="382.35" y="143.01" width="1.9" height="1.9" fill="#a04a8a" opacity="1.0"/>
<rect x="392.45" y="138.85" width="1.9" height="1.9" fill="#a04a8a" opacity="1.0"/>
<rect x="402.55" y="143.64" width="1.9" height="1.9" fill="#a04a8a" opacity="1.0"/>
<rect x="412.65" y="143.48" width="1.9" height="1.9" fill="#a04a8a" opacity="1.0"/>
<rect x="442.95" y="141.04" width="1.9" height="1.9" fill="#a04a8a" opacity="1.0"/>
<rect x="453.05" y="143.64" width="1.9" height="1.9" fill="#a04a8a" opacity="1.0"/>
<rect x="463.15" y="143.64" width="1.9" height="1.9" fill="#a04a8a" opacity="1.0"/>
<rect x="473.25" y="139.27" width="1.9" height="1.9" fill="#a04a8a" opacity="1.0"/>
<rect x="483.35" y="137.76" width="1.9" height="1.9" fill="#a04a8a" opacity="1.0"/>
<rect x="503.55" y="136.54" width="1.9" height="1.9" fill="#a04a8a" opacity="1.0"/>
<polyline points="327.75,132.4 332.8,138.31 342.9,137.41 353,132.59 363.1,139.48 373.2,132.54 403.5,133.81 413.6,136.18 423.7,137.5 433.8,133.04 443.9,131.87 454,138.79 464.1,135.76 474.2,135.13 494.4,135.59 504.5,137.1" fill="none" stroke="#4a7ab0" stroke-width="1.0" stroke-linejoin="round" opacity="1.0"/>
<rect x="326.8" y="131.45" width="1.9" height="1.9" fill="#4a7ab0" opacity="1.0"/>
<rect x="331.85" y="137.36" width="1.9" height="1.9" fill="#4a7ab0" opacity="1.0"/>
<rect x="341.95" y="136.46" width="1.9" height="1.9" fill="#4a7ab0" opacity="1.0"/>
<rect x="352.05" y="131.64" width="1.9" height="1.9" fill="#4a7ab0" opacity="1.0"/>
<rect x="362.15" y="138.53" width="1.9" height="1.9" fill="#4a7ab0" opacity="1.0"/>
<rect x="372.25" y="131.59" width="1.9" height="1.9" fill="#4a7ab0" opacity="1.0"/>
<rect x="402.55" y="132.86" width="1.9" height="1.9" fill="#4a7ab0" opacity="1.0"/>
<rect x="412.65" y="135.23" width="1.9" height="1.9" fill="#4a7ab0" opacity="1.0"/>
<rect x="422.75" y="136.55" width="1.9" height="1.9" fill="#4a7ab0" opacity="1.0"/>
<rect x="432.85" y="132.09" width="1.9" height="1.9" fill="#4a7ab0" opacity="1.0"/>
<rect x="442.95" y="130.92" width="1.9" height="1.9" fill="#4a7ab0" opacity="1.0"/>
<rect x="453.05" y="137.84" width="1.9" height="1.9" fill="#4a7ab0" opacity="1.0"/>
<rect x="463.15" y="134.81" width="1.9" height="1.9" fill="#4a7ab0" opacity="1.0"/>
<rect x="473.25" y="134.18" width="1.9" height="1.9" fill="#4a7ab0" opacity="1.0"/>
<rect x="493.45" y="134.64" width="1.9" height="1.9" fill="#4a7ab0" opacity="1.0"/>
<rect x="503.55" y="136.15" width="1.9" height="1.9" fill="#4a7ab0" opacity="1.0"/>
<polyline points="327.75,139.72 332.8,140.73 342.9,133.21 363.1,139.49 373.2,136.65 383.3,137.85 393.4,136.31 403.5,136.68 413.6,135.42 423.7,141.06 433.8,135.27 443.9,139.42 454,137.32 464.1,139.1 474.2,139.45 494.4,137.35 504.5,137.94" fill="none" stroke="#50506a" stroke-width="1.0" stroke-linejoin="round" opacity="1.0"/>
<rect x="326.8" y="138.77" width="1.9" height="1.9" fill="#50506a" opacity="1.0"/>
<rect x="331.85" y="139.78" width="1.9" height="1.9" fill="#50506a" opacity="1.0"/>
<rect x="341.95" y="132.26" width="1.9" height="1.9" fill="#50506a" opacity="1.0"/>
<rect x="362.15" y="138.54" width="1.9" height="1.9" fill="#50506a" opacity="1.0"/>
<rect x="372.25" y="135.7" width="1.9" height="1.9" fill="#50506a" opacity="1.0"/>
<rect x="382.35" y="136.9" width="1.9" height="1.9" fill="#50506a" opacity="1.0"/>
<rect x="392.45" y="135.36" width="1.9" height="1.9" fill="#50506a" opacity="1.0"/>
<rect x="402.55" y="135.73" width="1.9" height="1.9" fill="#50506a" opacity="1.0"/>
<rect x="412.65" y="134.47" width="1.9" height="1.9" fill="#50506a" opacity="1.0"/>
<rect x="422.75" y="140.11" width="1.9" height="1.9" fill="#50506a" opacity="1.0"/>
<rect x="432.85" y="134.32" width="1.9" height="1.9" fill="#50506a" opacity="1.0"/>
<rect x="442.95" y="138.47" width="1.9" height="1.9" fill="#50506a" opacity="1.0"/>
<rect x="453.05" y="136.37" width="1.9" height="1.9" fill="#50506a" opacity="1.0"/>
<rect x="463.15" y="138.15" width="1.9" height="1.9" fill="#50506a" opacity="1.0"/>
<rect x="473.25" y="138.5" width="1.9" height="1.9" fill="#50506a" opacity="1.0"/>
<rect x="493.45" y="136.4" width="1.9" height="1.9" fill="#50506a" opacity="1.0"/>
<rect x="503.55" y="136.99" width="1.9" height="1.9" fill="#50506a" opacity="1.0"/>
<polyline points="327.75,141.91 332.8,144.59 353,141.78 363.1,139.42 373.2,144.07 383.3,143.57 393.4,144.59 403.5,144.59 413.6,138.69 423.7,144.03 454,138.79 464.1,139.22 484.3,142.09 494.4,144.59 504.5,138.61" fill="none" stroke="#8a2050" stroke-width="1.0" stroke-linejoin="round" opacity="1.0"/>
<rect x="326.8" y="140.96" width="1.9" height="1.9" fill="#8a2050" opacity="1.0"/>
<rect x="331.85" y="143.64" width="1.9" height="1.9" fill="#8a2050" opacity="1.0"/>
<rect x="352.05" y="140.83" width="1.9" height="1.9" fill="#8a2050" opacity="1.0"/>
<rect x="362.15" y="138.47" width="1.9" height="1.9" fill="#8a2050" opacity="1.0"/>
<rect x="372.25" y="143.12" width="1.9" height="1.9" fill="#8a2050" opacity="1.0"/>
<rect x="382.35" y="142.62" width="1.9" height="1.9" fill="#8a2050" opacity="1.0"/>
<rect x="392.45" y="143.64" width="1.9" height="1.9" fill="#8a2050" opacity="1.0"/>
<rect x="402.55" y="143.64" width="1.9" height="1.9" fill="#8a2050" opacity="1.0"/>
<rect x="412.65" y="137.74" width="1.9" height="1.9" fill="#8a2050" opacity="1.0"/>
<rect x="422.75" y="143.08" width="1.9" height="1.9" fill="#8a2050" opacity="1.0"/>
<rect x="453.05" y="137.84" width="1.9" height="1.9" fill="#8a2050" opacity="1.0"/>
<rect x="463.15" y="138.27" width="1.9" height="1.9" fill="#8a2050" opacity="1.0"/>
<rect x="483.35" y="141.14" width="1.9" height="1.9" fill="#8a2050" opacity="1.0"/>
<rect x="493.45" y="143.64" width="1.9" height="1.9" fill="#8a2050" opacity="1.0"/>
<rect x="503.55" y="137.66" width="1.9" height="1.9" fill="#8a2050" opacity="1.0"/>
<polyline points="327.75,135.47 332.8,136.89 342.9,133.01 353,133.78 363.1,131.69 373.2,131.89 383.3,135.06 393.4,129.06 403.5,137.2 413.6,133.55 423.7,134.7 433.8,133.51 443.9,136.17 454,129.71 464.1,133.84 474.2,136.88 484.3,131.68 494.4,136.35 504.5,132.29" fill="none" stroke="#3a6a3a" stroke-width="1.0" stroke-linejoin="round" opacity="1.0"/>
<rect x="326.8" y="134.52" width="1.9" height="1.9" fill="#3a6a3a" opacity="1.0"/>
<rect x="331.85" y="135.94" width="1.9" height="1.9" fill="#3a6a3a" opacity="1.0"/>
<rect x="341.95" y="132.06" width="1.9" height="1.9" fill="#3a6a3a" opacity="1.0"/>
<rect x="352.05" y="132.83" width="1.9" height="1.9" fill="#3a6a3a" opacity="1.0"/>
<rect x="362.15" y="130.74" width="1.9" height="1.9" fill="#3a6a3a" opacity="1.0"/>
<rect x="372.25" y="130.94" width="1.9" height="1.9" fill="#3a6a3a" opacity="1.0"/>
<rect x="382.35" y="134.11" width="1.9" height="1.9" fill="#3a6a3a" opacity="1.0"/>
<rect x="392.45" y="128.11" width="1.9" height="1.9" fill="#3a6a3a" opacity="1.0"/>
<rect x="402.55" y="136.25" width="1.9" height="1.9" fill="#3a6a3a" opacity="1.0"/>
<rect x="412.65" y="132.6" width="1.9" height="1.9" fill="#3a6a3a" opacity="1.0"/>
<rect x="422.75" y="133.75" width="1.9" height="1.9" fill="#3a6a3a" opacity="1.0"/>
<rect x="432.85" y="132.56" width="1.9" height="1.9" fill="#3a6a3a" opacity="1.0"/>
<rect x="442.95" y="135.22" width="1.9" height="1.9" fill="#3a6a3a" opacity="1.0"/>
<rect x="453.05" y="128.76" width="1.9" height="1.9" fill="#3a6a3a" opacity="1.0"/>
<rect x="463.15" y="132.89" width="1.9" height="1.9" fill="#3a6a3a" opacity="1.0"/>
<rect x="473.25" y="135.93" width="1.9" height="1.9" fill="#3a6a3a" opacity="1.0"/>
<rect x="483.35" y="130.73" width="1.9" height="1.9" fill="#3a6a3a" opacity="1.0"/>
<rect x="493.45" y="135.4" width="1.9" height="1.9" fill="#3a6a3a" opacity="1.0"/>
<rect x="503.55" y="131.34" width="1.9" height="1.9" fill="#3a6a3a" opacity="1.0"/>
<polyline points="327.75,131.66 332.8,131.41 342.9,133.05 363.1,130.46 373.2,130.63 383.3,134.59 393.4,134.49 403.5,137.76 413.6,131.71 423.7,130.8 433.8,134.96 443.9,133.02 454,132.77 464.1,132.67 474.2,137.71 484.3,132.22 494.4,134.02 504.5,133.26" fill="none" stroke="#c05a30" stroke-width="1.0" stroke-linejoin="round" opacity="1.0"/>
<rect x="326.8" y="130.71" width="1.9" height="1.9" fill="#c05a30" opacity="1.0"/>
<rect x="331.85" y="130.46" width="1.9" height="1.9" fill="#c05a30" opacity="1.0"/>
<rect x="341.95" y="132.1" width="1.9" height="1.9" fill="#c05a30" opacity="1.0"/>
<rect x="362.15" y="129.51" width="1.9" height="1.9" fill="#c05a30" opacity="1.0"/>
<rect x="372.25" y="129.68" width="1.9" height="1.9" fill="#c05a30" opacity="1.0"/>
<rect x="382.35" y="133.64" width="1.9" height="1.9" fill="#c05a30" opacity="1.0"/>
<rect x="392.45" y="133.54" width="1.9" height="1.9" fill="#c05a30" opacity="1.0"/>
<rect x="402.55" y="136.81" width="1.9" height="1.9" fill="#c05a30" opacity="1.0"/>
<rect x="412.65" y="130.76" width="1.9" height="1.9" fill="#c05a30" opacity="1.0"/>
<rect x="422.75" y="129.85" width="1.9" height="1.9" fill="#c05a30" opacity="1.0"/>
<rect x="432.85" y="134.01" width="1.9" height="1.9" fill="#c05a30" opacity="1.0"/>
<rect x="442.95" y="132.07" width="1.9" height="1.9" fill="#c05a30" opacity="1.0"/>
<rect x="453.05" y="131.82" width="1.9" height="1.9" fill="#c05a30" opacity="1.0"/>
<rect x="463.15" y="131.72" width="1.9" height="1.9" fill="#c05a30" opacity="1.0"/>
<rect x="473.25" y="136.76" width="1.9" height="1.9" fill="#c05a30" opacity="1.0"/>
<rect x="483.35" y="131.27" width="1.9" height="1.9" fill="#c05a30" opacity="1.0"/>
<rect x="493.45" y="133.07" width="1.9" height="1.9" fill="#c05a30" opacity="1.0"/>
<rect x="503.55" y="132.31" width="1.9" height="1.9" fill="#c05a30" opacity="1.0"/>
<polyline points="327.75,144.59 332.8,143.77 342.9,139.18 383.3,138.41 393.4,142.97 403.5,139.14 413.6,139.24 423.7,139.96 433.8,140.24 443.9,139.38 454,142.95 484.3,139.88 494.4,143.7 504.5,141.85" fill="none" stroke="#6a3a96" stroke-width="1.0" stroke-linejoin="round" opacity="1.0"/>
<rect x="326.8" y="143.64" width="1.9" height="1.9" fill="#6a3a96" opacity="1.0"/>
<rect x="331.85" y="142.82" width="1.9" height="1.9" fill="#6a3a96" opacity="1.0"/>
<rect x="341.95" y="138.23" width="1.9" height="1.9" fill="#6a3a96" opacity="1.0"/>
<rect x="382.35" y="137.46" width="1.9" height="1.9" fill="#6a3a96" opacity="1.0"/>
<rect x="392.45" y="142.02" width="1.9" height="1.9" fill="#6a3a96" opacity="1.0"/>
<rect x="402.55" y="138.19" width="1.9" height="1.9" fill="#6a3a96" opacity="1.0"/>
<rect x="412.65" y="138.29" width="1.9" height="1.9" fill="#6a3a96" opacity="1.0"/>
<rect x="422.75" y="139.01" width="1.9" height="1.9" fill="#6a3a96" opacity="1.0"/>
<rect x="432.85" y="139.29" width="1.9" height="1.9" fill="#6a3a96" opacity="1.0"/>
<rect x="442.95" y="138.43" width="1.9" height="1.9" fill="#6a3a96" opacity="1.0"/>
<rect x="453.05" y="142" width="1.9" height="1.9" fill="#6a3a96" opacity="1.0"/>
<rect x="483.35" y="138.93" width="1.9" height="1.9" fill="#6a3a96" opacity="1.0"/>
<rect x="493.45" y="142.75" width="1.9" height="1.9" fill="#6a3a96" opacity="1.0"/>
<rect x="503.55" y="140.9" width="1.9" height="1.9" fill="#6a3a96" opacity="1.0"/>
<polyline points="332.8,138.84 353,139.15 363.1,142.45 373.2,134.69 383.3,142.65 393.4,138.5 403.5,135.39 413.6,141.77 433.8,136.35 443.9,134.38 464.1,137.26 474.2,135.84 484.3,141.99 494.4,139.03 504.5,141.6" fill="none" stroke="#3a8a7a" stroke-width="1.0" stroke-linejoin="round" opacity="1.0"/>
<rect x="331.85" y="137.89" width="1.9" height="1.9" fill="#3a8a7a" opacity="1.0"/>
<rect x="352.05" y="138.2" width="1.9" height="1.9" fill="#3a8a7a" opacity="1.0"/>
<rect x="362.15" y="141.5" width="1.9" height="1.9" fill="#3a8a7a" opacity="1.0"/>
<rect x="372.25" y="133.74" width="1.9" height="1.9" fill="#3a8a7a" opacity="1.0"/>
<rect x="382.35" y="141.7" width="1.9" height="1.9" fill="#3a8a7a" opacity="1.0"/>
<rect x="392.45" y="137.55" width="1.9" height="1.9" fill="#3a8a7a" opacity="1.0"/>
<rect x="402.55" y="134.44" width="1.9" height="1.9" fill="#3a8a7a" opacity="1.0"/>
<rect x="412.65" y="140.82" width="1.9" height="1.9" fill="#3a8a7a" opacity="1.0"/>
<rect x="432.85" y="135.4" width="1.9" height="1.9" fill="#3a8a7a" opacity="1.0"/>
<rect x="442.95" y="133.43" width="1.9" height="1.9" fill="#3a8a7a" opacity="1.0"/>
<rect x="463.15" y="136.31" width="1.9" height="1.9" fill="#3a8a7a" opacity="1.0"/>
<rect x="473.25" y="134.89" width="1.9" height="1.9" fill="#3a8a7a" opacity="1.0"/>
<rect x="483.35" y="141.04" width="1.9" height="1.9" fill="#3a8a7a" opacity="1.0"/>
<rect x="493.45" y="138.08" width="1.9" height="1.9" fill="#3a8a7a" opacity="1.0"/>
<rect x="503.55" y="140.65" width="1.9" height="1.9" fill="#3a8a7a" opacity="1.0"/>
<polyline points="327.75,139.54 332.8,134.49 342.9,132.92 353,132.81 363.1,138.2 373.2,138.11 383.3,136.58 403.5,134.31 413.6,140.34 423.7,134.56 433.8,134.12 443.9,133.56 454,140.98 464.1,132.78 474.2,140.49 484.3,138.24 494.4,135.8" fill="none" stroke="#7a2040" stroke-width="1.0" stroke-linejoin="round" opacity="1.0"/>
<rect x="326.8" y="138.59" width="1.9" height="1.9" fill="#7a2040" opacity="1.0"/>
<rect x="331.85" y="133.54" width="1.9" height="1.9" fill="#7a2040" opacity="1.0"/>
<rect x="341.95" y="131.97" width="1.9" height="1.9" fill="#7a2040" opacity="1.0"/>
<rect x="352.05" y="131.86" width="1.9" height="1.9" fill="#7a2040" opacity="1.0"/>
<rect x="362.15" y="137.25" width="1.9" height="1.9" fill="#7a2040" opacity="1.0"/>
<rect x="372.25" y="137.16" width="1.9" height="1.9" fill="#7a2040" opacity="1.0"/>
<rect x="382.35" y="135.63" width="1.9" height="1.9" fill="#7a2040" opacity="1.0"/>
<rect x="402.55" y="133.36" width="1.9" height="1.9" fill="#7a2040" opacity="1.0"/>
<rect x="412.65" y="139.39" width="1.9" height="1.9" fill="#7a2040" opacity="1.0"/>
<rect x="422.75" y="133.61" width="1.9" height="1.9" fill="#7a2040" opacity="1.0"/>
<rect x="432.85" y="133.17" width="1.9" height="1.9" fill="#7a2040" opacity="1.0"/>
<rect x="442.95" y="132.61" width="1.9" height="1.9" fill="#7a2040" opacity="1.0"/>
<rect x="453.05" y="140.03" width="1.9" height="1.9" fill="#7a2040" opacity="1.0"/>
<rect x="463.15" y="131.83" width="1.9" height="1.9" fill="#7a2040" opacity="1.0"/>
<rect x="473.25" y="139.54" width="1.9" height="1.9" fill="#7a2040" opacity="1.0"/>
<rect x="483.35" y="137.29" width="1.9" height="1.9" fill="#7a2040" opacity="1.0"/>
<rect x="493.45" y="134.85" width="1.9" height="1.9" fill="#7a2040" opacity="1.0"/>
<polyline points="332.8,138.36 342.9,135.87 353,136.53 363.1,141.89 373.2,141.33 383.3,143.09 393.4,143.28 413.6,144 423.7,141.87 454,139.15 474.2,144.56 484.3,138.48 494.4,141.54" fill="none" stroke="#2a2a6a" stroke-width="1.0" stroke-linejoin="round" opacity="1.0"/>
<rect x="331.85" y="137.41" width="1.9" height="1.9" fill="#2a2a6a" opacity="1.0"/>
<rect x="341.95" y="134.92" width="1.9" height="1.9" fill="#2a2a6a" opacity="1.0"/>
<rect x="352.05" y="135.58" width="1.9" height="1.9" fill="#2a2a6a" opacity="1.0"/>
<rect x="362.15" y="140.94" width="1.9" height="1.9" fill="#2a2a6a" opacity="1.0"/>
<rect x="372.25" y="140.38" width="1.9" height="1.9" fill="#2a2a6a" opacity="1.0"/>
<rect x="382.35" y="142.14" width="1.9" height="1.9" fill="#2a2a6a" opacity="1.0"/>
<rect x="392.45" y="142.33" width="1.9" height="1.9" fill="#2a2a6a" opacity="1.0"/>
<rect x="412.65" y="143.05" width="1.9" height="1.9" fill="#2a2a6a" opacity="1.0"/>
<rect x="422.75" y="140.92" width="1.9" height="1.9" fill="#2a2a6a" opacity="1.0"/>
<rect x="453.05" y="138.2" width="1.9" height="1.9" fill="#2a2a6a" opacity="1.0"/>
<rect x="473.25" y="143.61" width="1.9" height="1.9" fill="#2a2a6a" opacity="1.0"/>
<rect x="483.35" y="137.53" width="1.9" height="1.9" fill="#2a2a6a" opacity="1.0"/>
<rect x="493.45" y="140.59" width="1.9" height="1.9" fill="#2a2a6a" opacity="1.0"/>
<polyline points="327.75,136.8 332.8,135.98 342.9,137.62 353,104.82 363.1,46.6 373.2,108.92 383.3,132.7 393.4,136.8 403.5,134.75 413.6,137.62 423.7,136.8 433.8,138.85 443.9,136.8 454,137.62 464.1,138.85 474.2,140.9 484.3,140.08 494.4,138.85 504.5,140.9" fill="none" stroke="#c43048" stroke-width="1.0" stroke-linejoin="round" opacity="1.0"/>
<rect x="326.8" y="135.85" width="1.9" height="1.9" fill="#c43048" opacity="1.0"/>
<rect x="331.85" y="135.03" width="1.9" height="1.9" fill="#c43048" opacity="1.0"/>
<rect x="341.95" y="136.67" width="1.9" height="1.9" fill="#c43048" opacity="1.0"/>
<rect x="352.05" y="103.87" width="1.9" height="1.9" fill="#c43048" opacity="1.0"/>
<rect x="362.15" y="45.65" width="1.9" height="1.9" fill="#c43048" opacity="1.0"/>
<rect x="372.25" y="107.97" width="1.9" height="1.9" fill="#c43048" opacity="1.0"/>
<rect x="382.35" y="131.75" width="1.9" height="1.9" fill="#c43048" opacity="1.0"/>
<rect x="392.45" y="135.85" width="1.9" height="1.9" fill="#c43048" opacity="1.0"/>
<rect x="402.55" y="133.8" width="1.9" height="1.9" fill="#c43048" opacity="1.0"/>
<rect x="412.65" y="136.67" width="1.9" height="1.9" fill="#c43048" opacity="1.0"/>
<rect x="422.75" y="135.85" width="1.9" height="1.9" fill="#c43048" opacity="1.0"/>
<rect x="432.85" y="137.9" width="1.9" height="1.9" fill="#c43048" opacity="1.0"/>
<rect x="442.95" y="135.85" width="1.9" height="1.9" fill="#c43048" opacity="1.0"/>
<rect x="453.05" y="136.67" width="1.9" height="1.9" fill="#c43048" opacity="1.0"/>
<rect x="463.15" y="137.9" width="1.9" height="1.9" fill="#c43048" opacity="1.0"/>
<rect x="473.25" y="139.95" width="1.9" height="1.9" fill="#c43048" opacity="1.0"/>
<rect x="483.35" y="139.13" width="1.9" height="1.9" fill="#c43048" opacity="1.0"/>
<rect x="493.45" y="137.9" width="1.9" height="1.9" fill="#c43048" opacity="1.0"/>
<rect x="503.55" y="139.95" width="1.9" height="1.9" fill="#c43048" opacity="1.0"/>
<polyline points="327.75,134.75 332.8,133.52 342.9,132.7 353,124.5 363.1,122.45 373.2,94.16 383.3,112.61 393.4,86.78 413.6,130.24 423.7,128.6 433.8,132.7 443.9,130.65 454,133.52 464.1,134.75 474.2,136.8 484.3,137.62 494.4,136.8 504.5,135.98" fill="none" stroke="#4b4b5b" stroke-width="1.0" stroke-linejoin="round" opacity="1.0"/>
<rect x="326.8" y="133.8" width="1.9" height="1.9" fill="#4b4b5b" opacity="1.0"/>
<rect x="331.85" y="132.57" width="1.9" height="1.9" fill="#4b4b5b" opacity="1.0"/>
<rect x="341.95" y="131.75" width="1.9" height="1.9" fill="#4b4b5b" opacity="1.0"/>
<rect x="352.05" y="123.55" width="1.9" height="1.9" fill="#4b4b5b" opacity="1.0"/>
<rect x="362.15" y="121.5" width="1.9" height="1.9" fill="#4b4b5b" opacity="1.0"/>
<rect x="372.25" y="93.21" width="1.9" height="1.9" fill="#4b4b5b" opacity="1.0"/>
<rect x="382.35" y="111.66" width="1.9" height="1.9" fill="#4b4b5b" opacity="1.0"/>
<rect x="392.45" y="85.83" width="1.9" height="1.9" fill="#4b4b5b" opacity="1.0"/>
<rect x="412.65" y="129.29" width="1.9" height="1.9" fill="#4b4b5b" opacity="1.0"/>
<rect x="422.75" y="127.65" width="1.9" height="1.9" fill="#4b4b5b" opacity="1.0"/>
<rect x="432.85" y="131.75" width="1.9" height="1.9" fill="#4b4b5b" opacity="1.0"/>
<rect x="442.95" y="129.7" width="1.9" height="1.9" fill="#4b4b5b" opacity="1.0"/>
<rect x="453.05" y="132.57" width="1.9" height="1.9" fill="#4b4b5b" opacity="1.0"/>
<rect x="463.15" y="133.8" width="1.9" height="1.9" fill="#4b4b5b" opacity="1.0"/>
<rect x="473.25" y="135.85" width="1.9" height="1.9" fill="#4b4b5b" opacity="1.0"/>
<rect x="483.35" y="136.67" width="1.9" height="1.9" fill="#4b4b5b" opacity="1.0"/>
<rect x="493.45" y="135.85" width="1.9" height="1.9" fill="#4b4b5b" opacity="1.0"/>
<rect x="503.55" y="135.03" width="1.9" height="1.9" fill="#4b4b5b" opacity="1.0"/>
<polyline points="353,132.7 363.1,128.6 373.2,130.65 383.3,118.35 393.4,106.46 403.5,107.69 413.6,89.65 433.8,111.38 443.9,108.1 464.1,66.28 494.4,115.07 504.5,127.37" fill="none" stroke="#b0404e" stroke-width="1.0" stroke-linejoin="round" opacity="1.0"/>
<rect x="352.05" y="131.75" width="1.9" height="1.9" fill="#b0404e" opacity="1.0"/>
<rect x="362.15" y="127.65" width="1.9" height="1.9" fill="#b0404e" opacity="1.0"/>
<rect x="372.25" y="129.7" width="1.9" height="1.9" fill="#b0404e" opacity="1.0"/>
<rect x="382.35" y="117.4" width="1.9" height="1.9" fill="#b0404e" opacity="1.0"/>
<rect x="392.45" y="105.51" width="1.9" height="1.9" fill="#b0404e" opacity="1.0"/>
<rect x="402.55" y="106.74" width="1.9" height="1.9" fill="#b0404e" opacity="1.0"/>
<rect x="412.65" y="88.7" width="1.9" height="1.9" fill="#b0404e" opacity="1.0"/>
<rect x="432.85" y="110.43" width="1.9" height="1.9" fill="#b0404e" opacity="1.0"/>
<rect x="442.95" y="107.15" width="1.9" height="1.9" fill="#b0404e" opacity="1.0"/>
<rect x="463.15" y="65.33" width="1.9" height="1.9" fill="#b0404e" opacity="1.0"/>
<rect x="493.45" y="114.12" width="1.9" height="1.9" fill="#b0404e" opacity="1.0"/>
<rect x="503.55" y="126.42" width="1.9" height="1.9" fill="#b0404e" opacity="1.0"/>
<polyline points="393.4,134.75 403.5,132.7 413.6,128.6 423.7,120.4 433.8,112.2 443.9,85.96 484.3,113.43" fill="none" stroke="#c4c4c4" stroke-width="1.0" stroke-linejoin="round" opacity="1.0"/>
<rect x="392.45" y="133.8" width="1.9" height="1.9" fill="#c4c4c4" opacity="1.0"/>
<rect x="402.55" y="131.75" width="1.9" height="1.9" fill="#c4c4c4" opacity="1.0"/>
<rect x="412.65" y="127.65" width="1.9" height="1.9" fill="#c4c4c4" opacity="1.0"/>
<rect x="422.75" y="119.45" width="1.9" height="1.9" fill="#c4c4c4" opacity="1.0"/>
<rect x="432.85" y="111.25" width="1.9" height="1.9" fill="#c4c4c4" opacity="1.0"/>
<rect x="442.95" y="85.01" width="1.9" height="1.9" fill="#c4c4c4" opacity="1.0"/>
<rect x="483.35" y="112.48" width="1.9" height="1.9" fill="#c4c4c4" opacity="1.0"/>
<polyline points="403.5,132.7 413.6,130.24 423.7,128.6 433.8,95.8 454,120.4 464.1,116.3 474.2,93.75 494.4,83.5 504.5,63.82" fill="none" stroke="#45454f" stroke-width="1.0" stroke-linejoin="round" opacity="1.0"/>
<rect x="402.55" y="131.75" width="1.9" height="1.9" fill="#45454f" opacity="1.0"/>
<rect x="412.65" y="129.29" width="1.9" height="1.9" fill="#45454f" opacity="1.0"/>
<rect x="422.75" y="127.65" width="1.9" height="1.9" fill="#45454f" opacity="1.0"/>
<rect x="432.85" y="94.85" width="1.9" height="1.9" fill="#45454f" opacity="1.0"/>
<rect x="453.05" y="119.45" width="1.9" height="1.9" fill="#45454f" opacity="1.0"/>
<rect x="463.15" y="115.35" width="1.9" height="1.9" fill="#45454f" opacity="1.0"/>
<rect x="473.25" y="92.8" width="1.9" height="1.9" fill="#45454f" opacity="1.0"/>
<rect x="493.45" y="82.55" width="1.9" height="1.9" fill="#45454f" opacity="1.0"/>
<rect x="503.55" y="62.87" width="1.9" height="1.9" fill="#45454f" opacity="1.0"/>
<polyline points="403.5,136.8 413.6,132.7 423.7,132.7 433.8,124.5 443.9,97.03 454,113.02 464.1,124.5 474.2,128.6 484.3,130.65 494.4,132.7 504.5,134.75" fill="none" stroke="#2b3a7a" stroke-width="1.0" stroke-linejoin="round" opacity="1.0"/>
<rect x="402.55" y="135.85" width="1.9" height="1.9" fill="#2b3a7a" opacity="1.0"/>
<rect x="412.65" y="131.75" width="1.9" height="1.9" fill="#2b3a7a" opacity="1.0"/>
<rect x="422.75" y="131.75" width="1.9" height="1.9" fill="#2b3a7a" opacity="1.0"/>
<rect x="432.85" y="123.55" width="1.9" height="1.9" fill="#2b3a7a" opacity="1.0"/>
<rect x="442.95" y="96.08" width="1.9" height="1.9" fill="#2b3a7a" opacity="1.0"/>
<rect x="453.05" y="112.07" width="1.9" height="1.9" fill="#2b3a7a" opacity="1.0"/>
<rect x="463.15" y="123.55" width="1.9" height="1.9" fill="#2b3a7a" opacity="1.0"/>
<rect x="473.25" y="127.65" width="1.9" height="1.9" fill="#2b3a7a" opacity="1.0"/>
<rect x="483.35" y="129.7" width="1.9" height="1.9" fill="#2b3a7a" opacity="1.0"/>
<rect x="493.45" y="131.75" width="1.9" height="1.9" fill="#2b3a7a" opacity="1.0"/>
<rect x="503.55" y="133.8" width="1.9" height="1.9" fill="#2b3a7a" opacity="1.0"/>
<polyline points="327.75,123.68 332.8,124.5 342.9,125.73 353,128.6 363.1,130.65 373.2,129.42 383.3,132.7 393.4,133.52 403.5,134.75" fill="none" stroke="#2b3a7a" stroke-width="1.0" stroke-linejoin="round" opacity="1.0"/>
<rect x="326.8" y="122.73" width="1.9" height="1.9" fill="#2b3a7a" opacity="1.0"/>
<rect x="331.85" y="123.55" width="1.9" height="1.9" fill="#2b3a7a" opacity="1.0"/>
<rect x="341.95" y="124.78" width="1.9" height="1.9" fill="#2b3a7a" opacity="1.0"/>
<rect x="352.05" y="127.65" width="1.9" height="1.9" fill="#2b3a7a" opacity="1.0"/>
<rect x="362.15" y="129.7" width="1.9" height="1.9" fill="#2b3a7a" opacity="1.0"/>
<rect x="372.25" y="128.47" width="1.9" height="1.9" fill="#2b3a7a" opacity="1.0"/>
<rect x="382.35" y="131.75" width="1.9" height="1.9" fill="#2b3a7a" opacity="1.0"/>
<rect x="392.45" y="132.57" width="1.9" height="1.9" fill="#2b3a7a" opacity="1.0"/>
<rect x="402.55" y="133.8" width="1.9" height="1.9" fill="#2b3a7a" opacity="1.0"/>
<polyline points="327.75,132.7 332.8,133.52 342.9,132.7 353,120.4 363.1,106.05 373.2,126.55 383.3,130.65 393.4,132.7 403.5,133.52 413.6,134.75" fill="none" stroke="#5a6a8a" stroke-width="1.0" stroke-linejoin="round" opacity="1.0"/>
<rect x="326.8" y="131.75" width="1.9" height="1.9" fill="#5a6a8a" opacity="1.0"/>
<rect x="331.85" y="132.57" width="1.9" height="1.9" fill="#5a6a8a" opacity="1.0"/>
<rect x="341.95" y="131.75" width="1.9" height="1.9" fill="#5a6a8a" opacity="1.0"/>
<rect x="352.05" y="119.45" width="1.9" height="1.9" fill="#5a6a8a" opacity="1.0"/>
<rect x="362.15" y="105.1" width="1.9" height="1.9" fill="#5a6a8a" opacity="1.0"/>
<rect x="372.25" y="125.6" width="1.9" height="1.9" fill="#5a6a8a" opacity="1.0"/>
<rect x="382.35" y="129.7" width="1.9" height="1.9" fill="#5a6a8a" opacity="1.0"/>
<rect x="392.45" y="131.75" width="1.9" height="1.9" fill="#5a6a8a" opacity="1.0"/>
<rect x="402.55" y="132.57" width="1.9" height="1.9" fill="#5a6a8a" opacity="1.0"/>
<rect x="412.65" y="133.8" width="1.9" height="1.9" fill="#5a6a8a" opacity="1.0"/>
<polyline points="413.6,132.7 423.7,130.65 433.8,128.6 443.9,126.55 454,126.55 464.1,124.5 474.2,120.4 484.3,118.35 494.4,114.25 504.5,111.38" fill="none" stroke="#8ab84a" stroke-width="1.0" stroke-linejoin="round" opacity="1.0"/>
<rect x="412.65" y="131.75" width="1.9" height="1.9" fill="#8ab84a" opacity="1.0"/>
<rect x="422.75" y="129.7" width="1.9" height="1.9" fill="#8ab84a" opacity="1.0"/>
<rect x="432.85" y="127.65" width="1.9" height="1.9" fill="#8ab84a" opacity="1.0"/>
<rect x="442.95" y="125.6" width="1.9" height="1.9" fill="#8ab84a" opacity="1.0"/>
<rect x="453.05" y="125.6" width="1.9" height="1.9" fill="#8ab84a" opacity="1.0"/>
<rect x="463.15" y="123.55" width="1.9" height="1.9" fill="#8ab84a" opacity="1.0"/>
<rect x="473.25" y="119.45" width="1.9" height="1.9" fill="#8ab84a" opacity="1.0"/>
<rect x="483.35" y="117.4" width="1.9" height="1.9" fill="#8ab84a" opacity="1.0"/>
<rect x="493.45" y="113.3" width="1.9" height="1.9" fill="#8ab84a" opacity="1.0"/>
<rect x="503.55" y="110.43" width="1.9" height="1.9" fill="#8ab84a" opacity="1.0"/>
<polyline points="363.1,128.6 373.2,126.55 383.3,119.58 393.4,111.79 403.5,119.17 413.6,116.3 423.7,123.68 433.8,132.7 443.9,133.52" fill="none" stroke="#4a4a5a" stroke-width="1.0" stroke-linejoin="round" opacity="1.0"/>
<rect x="362.15" y="127.65" width="1.9" height="1.9" fill="#4a4a5a" opacity="1.0"/>
<rect x="372.25" y="125.6" width="1.9" height="1.9" fill="#4a4a5a" opacity="1.0"/>
<rect x="382.35" y="118.63" width="1.9" height="1.9" fill="#4a4a5a" opacity="1.0"/>
<rect x="392.45" y="110.84" width="1.9" height="1.9" fill="#4a4a5a" opacity="1.0"/>
<rect x="402.55" y="118.22" width="1.9" height="1.9" fill="#4a4a5a" opacity="1.0"/>
<rect x="412.65" y="115.35" width="1.9" height="1.9" fill="#4a4a5a" opacity="1.0"/>
<rect x="422.75" y="122.73" width="1.9" height="1.9" fill="#4a4a5a" opacity="1.0"/>
<rect x="432.85" y="131.75" width="1.9" height="1.9" fill="#4a4a5a" opacity="1.0"/>
<rect x="442.95" y="132.57" width="1.9" height="1.9" fill="#4a4a5a" opacity="1.0"/>
<polyline points="433.8,136.8 443.9,112.2 454,120.4 464.1,130.65 474.2,132.7 484.3,124.5 494.4,115.07 504.5,127.37" fill="none" stroke="#8a3a8a" stroke-width="1.0" stroke-linejoin="round" opacity="1.0"/>
<rect x="432.85" y="135.85" width="1.9" height="1.9" fill="#8a3a8a" opacity="1.0"/>
<rect x="442.95" y="111.25" width="1.9" height="1.9" fill="#8a3a8a" opacity="1.0"/>
<rect x="453.05" y="119.45" width="1.9" height="1.9" fill="#8a3a8a" opacity="1.0"/>
<rect x="463.15" y="129.7" width="1.9" height="1.9" fill="#8a3a8a" opacity="1.0"/>
<rect x="473.25" y="131.75" width="1.9" height="1.9" fill="#8a3a8a" opacity="1.0"/>
<rect x="483.35" y="123.55" width="1.9" height="1.9" fill="#8a3a8a" opacity="1.0"/>
<rect x="493.45" y="114.12" width="1.9" height="1.9" fill="#8a3a8a" opacity="1.0"/>
<rect x="503.55" y="126.42" width="1.9" height="1.9" fill="#8a3a8a" opacity="1.0"/>
<polyline points="332.8,134.75 342.9,135.57 353,113.02 363.1,120.4 373.2,130.65 383.3,132.7 393.4,134.75" fill="none" stroke="#4a5a8a" stroke-width="1.0" stroke-linejoin="round" opacity="1.0"/>
<rect x="331.85" y="133.8" width="1.9" height="1.9" fill="#4a5a8a" opacity="1.0"/>
<rect x="341.95" y="134.62" width="1.9" height="1.9" fill="#4a5a8a" opacity="1.0"/>
<rect x="352.05" y="112.07" width="1.9" height="1.9" fill="#4a5a8a" opacity="1.0"/>
<rect x="362.15" y="119.45" width="1.9" height="1.9" fill="#4a5a8a" opacity="1.0"/>
<rect x="372.25" y="129.7" width="1.9" height="1.9" fill="#4a5a8a" opacity="1.0"/>
<rect x="382.35" y="131.75" width="1.9" height="1.9" fill="#4a5a8a" opacity="1.0"/>
<rect x="392.45" y="133.8" width="1.9" height="1.9" fill="#4a5a8a" opacity="1.0"/>
<polyline points="327.75,136.8 332.8,135.98 342.9,136.8 353,119.58 363.1,113.43 373.2,124.5 383.3,129.42 393.4,131.88 403.5,133.52" fill="none" stroke="#3a4a6a" stroke-width="1.0" stroke-linejoin="round" opacity="1.0"/>
<rect x="326.8" y="135.85" width="1.9" height="1.9" fill="#3a4a6a" opacity="1.0"/>
<rect x="331.85" y="135.03" width="1.9" height="1.9" fill="#3a4a6a" opacity="1.0"/>
<rect x="341.95" y="135.85" width="1.9" height="1.9" fill="#3a4a6a" opacity="1.0"/>
<rect x="352.05" y="118.63" width="1.9" height="1.9" fill="#3a4a6a" opacity="1.0"/>
<rect x="362.15" y="112.48" width="1.9" height="1.9" fill="#3a4a6a" opacity="1.0"/>
<rect x="372.25" y="123.55" width="1.9" height="1.9" fill="#3a4a6a" opacity="1.0"/>
<rect x="382.35" y="128.47" width="1.9" height="1.9" fill="#3a4a6a" opacity="1.0"/>
<rect x="392.45" y="130.93" width="1.9" height="1.9" fill="#3a4a6a" opacity="1.0"/>
<rect x="402.55" y="132.57" width="1.9" height="1.9" fill="#3a4a6a" opacity="1.0"/>
<polyline points="373.2,132.7 383.3,126.55 393.4,128.6 403.5,124.5 413.6,122.45 423.7,126.55 433.8,120.4 443.9,116.3 454,124.5 464.1,126.55 474.2,128.6 484.3,124.5 494.4,126.55 504.5,128.6" fill="none" stroke="#9aaa50" stroke-width="1.0" stroke-linejoin="round" opacity="1.0"/>
<rect x="372.25" y="131.75" width="1.9" height="1.9" fill="#9aaa50" opacity="1.0"/>
<rect x="382.35" y="125.6" width="1.9" height="1.9" fill="#9aaa50" opacity="1.0"/>
<rect x="392.45" y="127.65" width="1.9" height="1.9" fill="#9aaa50" opacity="1.0"/>
<rect x="402.55" y="123.55" width="1.9" height="1.9" fill="#9aaa50" opacity="1.0"/>
<rect x="412.65" y="121.5" width="1.9" height="1.9" fill="#9aaa50" opacity="1.0"/>
<rect x="422.75" y="125.6" width="1.9" height="1.9" fill="#9aaa50" opacity="1.0"/>
<rect x="432.85" y="119.45" width="1.9" height="1.9" fill="#9aaa50" opacity="1.0"/>
<rect x="442.95" y="115.35" width="1.9" height="1.9" fill="#9aaa50" opacity="1.0"/>
<rect x="453.05" y="123.55" width="1.9" height="1.9" fill="#9aaa50" opacity="1.0"/>
<rect x="463.15" y="125.6" width="1.9" height="1.9" fill="#9aaa50" opacity="1.0"/>
<rect x="473.25" y="127.65" width="1.9" height="1.9" fill="#9aaa50" opacity="1.0"/>
<rect x="483.35" y="123.55" width="1.9" height="1.9" fill="#9aaa50" opacity="1.0"/>
<rect x="493.45" y="125.6" width="1.9" height="1.9" fill="#9aaa50" opacity="1.0"/>
<rect x="503.55" y="127.65" width="1.9" height="1.9" fill="#9aaa50" opacity="1.0"/>
<polyline points="363.1,130.65 373.2,128.6 383.3,132.7 393.4,126.55 403.5,128.6 413.6,123.68 423.7,120.4 433.8,118.35 443.9,122.45 454,126.55 464.1,124.5 474.2,128.6 484.3,130.65 494.4,132.7 504.5,130.65" fill="none" stroke="#3a7a6a" stroke-width="1.0" stroke-linejoin="round" opacity="1.0"/>
<rect x="362.15" y="129.7" width="1.9" height="1.9" fill="#3a7a6a" opacity="1.0"/>
<rect x="372.25" y="127.65" width="1.9" height="1.9" fill="#3a7a6a" opacity="1.0"/>
<rect x="382.35" y="131.75" width="1.9" height="1.9" fill="#3a7a6a" opacity="1.0"/>
<rect x="392.45" y="125.6" width="1.9" height="1.9" fill="#3a7a6a" opacity="1.0"/>
<rect x="402.55" y="127.65" width="1.9" height="1.9" fill="#3a7a6a" opacity="1.0"/>
<rect x="412.65" y="122.73" width="1.9" height="1.9" fill="#3a7a6a" opacity="1.0"/>
<rect x="422.75" y="119.45" width="1.9" height="1.9" fill="#3a7a6a" opacity="1.0"/>
<rect x="432.85" y="117.4" width="1.9" height="1.9" fill="#3a7a6a" opacity="1.0"/>
<rect x="442.95" y="121.5" width="1.9" height="1.9" fill="#3a7a6a" opacity="1.0"/>
<rect x="453.05" y="125.6" width="1.9" height="1.9" fill="#3a7a6a" opacity="1.0"/>
<rect x="463.15" y="123.55" width="1.9" height="1.9" fill="#3a7a6a" opacity="1.0"/>
<rect x="473.25" y="127.65" width="1.9" height="1.9" fill="#3a7a6a" opacity="1.0"/>
<rect x="483.35" y="129.7" width="1.9" height="1.9" fill="#3a7a6a" opacity="1.0"/>
<rect x="493.45" y="131.75" width="1.9" height="1.9" fill="#3a7a6a" opacity="1.0"/>
<rect x="503.55" y="129.7" width="1.9" height="1.9" fill="#3a7a6a" opacity="1.0"/>
<polyline points="327.75,144.03 332.8,143.88 342.9,143.82 353,143.64 363.1,143.88 373.2,143.66 383.3,144.76 393.4,144.22 403.5,143.63 413.6,144 423.7,143.69 433.8,144.66 443.9,144.22 454,144.49 464.1,144.13 474.2,144.09 484.3,144.78 494.4,144.53 504.5,144.45" fill="none" stroke="#d06080" stroke-width="1.0" stroke-linejoin="round" opacity="1.0"/>
<rect x="326.8" y="143.08" width="1.9" height="1.9" fill="#d06080" opacity="1.0"/>
<rect x="331.85" y="142.93" width="1.9" height="1.9" fill="#d06080" opacity="1.0"/>
<rect x="341.95" y="142.87" width="1.9" height="1.9" fill="#d06080" opacity="1.0"/>
<rect x="352.05" y="142.69" width="1.9" height="1.9" fill="#d06080" opacity="1.0"/>
<rect x="362.15" y="142.93" width="1.9" height="1.9" fill="#d06080" opacity="1.0"/>
<rect x="372.25" y="142.71" width="1.9" height="1.9" fill="#d06080" opacity="1.0"/>
<rect x="382.35" y="143.81" width="1.9" height="1.9" fill="#d06080" opacity="1.0"/>
<rect x="392.45" y="143.27" width="1.9" height="1.9" fill="#d06080" opacity="1.0"/>
<rect x="402.55" y="142.68" width="1.9" height="1.9" fill="#d06080" opacity="1.0"/>
<rect x="412.65" y="143.05" width="1.9" height="1.9" fill="#d06080" opacity="1.0"/>
<rect x="422.75" y="142.74" width="1.9" height="1.9" fill="#d06080" opacity="1.0"/>
<rect x="432.85" y="143.71" width="1.9" height="1.9" fill="#d06080" opacity="1.0"/>
<rect x="442.95" y="143.27" width="1.9" height="1.9" fill="#d06080" opacity="1.0"/>
<rect x="453.05" y="143.54" width="1.9" height="1.9" fill="#d06080" opacity="1.0"/>
<rect x="463.15" y="143.18" width="1.9" height="1.9" fill="#d06080" opacity="1.0"/>
<rect x="473.25" y="143.14" width="1.9" height="1.9" fill="#d06080" opacity="1.0"/>
<rect x="483.35" y="143.83" width="1.9" height="1.9" fill="#d06080" opacity="1.0"/>
<rect x="493.45" y="143.58" width="1.9" height="1.9" fill="#d06080" opacity="1.0"/>
<rect x="503.55" y="143.5" width="1.9" height="1.9" fill="#d06080" opacity="1.0"/>
<polyline points="423.7,132.7 433.8,130.65 443.9,128.6 454,126.55 464.1,124.5 474.2,119.58 484.3,128.6 494.4,132.7 504.5,134.75" fill="none" stroke="#7a2040" stroke-width="1.0" stroke-linejoin="round" opacity="1.0"/>
<rect x="422.75" y="131.75" width="1.9" height="1.9" fill="#7a2040" opacity="1.0"/>
<rect x="432.85" y="129.7" width="1.9" height="1.9" fill="#7a2040" opacity="1.0"/>
<rect x="442.95" y="127.65" width="1.9" height="1.9" fill="#7a2040" opacity="1.0"/>
<rect x="453.05" y="125.6" width="1.9" height="1.9" fill="#7a2040" opacity="1.0"/>
<rect x="463.15" y="123.55" width="1.9" height="1.9" fill="#7a2040" opacity="1.0"/>
<rect x="473.25" y="118.63" width="1.9" height="1.9" fill="#7a2040" opacity="1.0"/>
<rect x="483.35" y="127.65" width="1.9" height="1.9" fill="#7a2040" opacity="1.0"/>
<rect x="493.45" y="131.75" width="1.9" height="1.9" fill="#7a2040" opacity="1.0"/>
<rect x="503.55" y="133.8" width="1.9" height="1.9" fill="#7a2040" opacity="1.0"/>
<polyline points="454,132.7 464.1,130.65 474.2,128.6 484.3,124.5 494.4,120.4 504.5,117.12" fill="none" stroke="#c0a070" stroke-width="1.0" stroke-linejoin="round" opacity="1.0"/>
<rect x="453.05" y="131.75" width="1.9" height="1.9" fill="#c0a070" opacity="1.0"/>
<rect x="463.15" y="129.7" width="1.9" height="1.9" fill="#c0a070" opacity="1.0"/>
<rect x="473.25" y="127.65" width="1.9" height="1.9" fill="#c0a070" opacity="1.0"/>
<rect x="483.35" y="123.55" width="1.9" height="1.9" fill="#c0a070" opacity="1.0"/>
<rect x="493.45" y="119.45" width="1.9" height="1.9" fill="#c0a070" opacity="1.0"/>
<rect x="503.55" y="116.17" width="1.9" height="1.9" fill="#c0a070" opacity="1.0"/>
<line x1="56.8" y1="27.1" x2="56.8" y2="151.8" stroke="#111" stroke-width="1.6" />
<line x1="56" y1="151" x2="243" y2="151" stroke="#111" stroke-width="1.6" />
<line x1="53.2" y1="151" x2="56.8" y2="151" stroke="#111" stroke-width="1.2" />
<text x="50" y="154.05" font-size="9.3" text-anchor="end" fill="#2a2a2a" textLength="4.89" lengthAdjust="spacingAndGlyphs" stroke="#2a2a2a" stroke-width="0.25" >0</text>
<line x1="53.2" y1="110.73" x2="56.8" y2="110.73" stroke="#111" stroke-width="1.2" />
<text x="50" y="113.78" font-size="9.3" text-anchor="end" fill="#2a2a2a" textLength="14.68" lengthAdjust="spacingAndGlyphs" stroke="#2a2a2a" stroke-width="0.25" >100</text>
<line x1="53.2" y1="70.46" x2="56.8" y2="70.46" stroke="#111" stroke-width="1.2" />
<text x="50" y="73.51" font-size="9.3" text-anchor="end" fill="#2a2a2a" textLength="14.68" lengthAdjust="spacingAndGlyphs" stroke="#2a2a2a" stroke-width="0.25" >200</text>
<line x1="53.2" y1="30.19" x2="56.8" y2="30.19" stroke="#111" stroke-width="1.2" />
<text x="50" y="33.24" font-size="9.3" text-anchor="end" fill="#2a2a2a" textLength="14.68" lengthAdjust="spacingAndGlyphs" stroke="#2a2a2a" stroke-width="0.25" >300</text>
<line x1="56.8" y1="151" x2="56.8" y2="154.6" stroke="#111" stroke-width="1.2" />
<text x="56.8" y="165.6" font-size="9.3" text-anchor="middle" fill="#2a2a2a" textLength="4.89" lengthAdjust="spacingAndGlyphs" stroke="#2a2a2a" stroke-width="0.25" >0</text>
<line x1="87.22" y1="151" x2="87.22" y2="154.6" stroke="#111" stroke-width="1.2" />
<text x="87.22" y="165.6" font-size="9.3" text-anchor="middle" fill="#2a2a2a" textLength="4.89" lengthAdjust="spacingAndGlyphs" stroke="#2a2a2a" stroke-width="0.25" >6</text>
<line x1="117.64" y1="151" x2="117.64" y2="154.6" stroke="#111" stroke-width="1.2" />
<text x="117.64" y="165.6" font-size="9.3" text-anchor="middle" fill="#2a2a2a" textLength="9.79" lengthAdjust="spacingAndGlyphs" stroke="#2a2a2a" stroke-width="0.25" >12</text>
<line x1="148.06" y1="151" x2="148.06" y2="154.6" stroke="#111" stroke-width="1.2" />
<text x="148.06" y="165.6" font-size="9.3" text-anchor="middle" fill="#2a2a2a" textLength="9.79" lengthAdjust="spacingAndGlyphs" stroke="#2a2a2a" stroke-width="0.25" >18</text>
<line x1="178.48" y1="151" x2="178.48" y2="154.6" stroke="#111" stroke-width="1.2" />
<text x="178.48" y="165.6" font-size="9.3" text-anchor="middle" fill="#2a2a2a" textLength="9.79" lengthAdjust="spacingAndGlyphs" stroke="#2a2a2a" stroke-width="0.25" >24</text>
<line x1="208.9" y1="151" x2="208.9" y2="154.6" stroke="#111" stroke-width="1.2" />
<text x="208.9" y="165.6" font-size="9.3" text-anchor="middle" fill="#2a2a2a" textLength="9.79" lengthAdjust="spacingAndGlyphs" stroke="#2a2a2a" stroke-width="0.25" >30</text>
<line x1="239.32" y1="151" x2="239.32" y2="154.6" stroke="#111" stroke-width="1.2" />
<text x="239.32" y="165.6" font-size="9.3" text-anchor="middle" fill="#2a2a2a" textLength="9.79" lengthAdjust="spacingAndGlyphs" stroke="#2a2a2a" stroke-width="0.25" >36</text>
<text x="29" y="88.6" font-size="10.5" text-anchor="middle" fill="#2a2a2a" textLength="96.6" lengthAdjust="spacingAndGlyphs" transform="rotate(-90 29 88.6)" stroke="#2a2a2a" stroke-width="0.35" >Fluorescence intensity</text>
<text x="150" y="181.2" font-size="10.5" text-anchor="middle" fill="#2a2a2a" textLength="94.7" lengthAdjust="spacingAndGlyphs" stroke="#2a2a2a" stroke-width="0.35" >Month post transplant</text>
<text x="200.4" y="49.4" font-size="8.2" text-anchor="middle" fill="#2a2a2a" textLength="40.6" lengthAdjust="spacingAndGlyphs" stroke="#2a2a2a" stroke-width="0.25" >No cGVHD</text>
<text x="200.8" y="58.9" font-size="8.2" text-anchor="middle" fill="#2a2a2a" textLength="23.7" lengthAdjust="spacingAndGlyphs" stroke="#2a2a2a" stroke-width="0.25" >(n=19)</text>
<text x="7.6" y="16.5" font-size="12.5" text-anchor="start" fill="#000" font-weight="bold" textLength="8.4" lengthAdjust="spacingAndGlyphs" stroke="#000" stroke-width="0.3" >A</text>
<line x1="322.85" y1="22.2" x2="322.85" y2="150" stroke="#111" stroke-width="1.6" />
<line x1="322.05" y1="149.2" x2="511.5" y2="149.2" stroke="#111" stroke-width="1.6" />
<line x1="319.25" y1="149.1" x2="322.85" y2="149.1" stroke="#111" stroke-width="1.2" />
<text x="315.3" y="152.15" font-size="9.3" text-anchor="end" fill="#2a2a2a" textLength="4.89" lengthAdjust="spacingAndGlyphs" stroke="#2a2a2a" stroke-width="0.25" >0</text>
<line x1="319.25" y1="108.1" x2="322.85" y2="108.1" stroke="#111" stroke-width="1.2" />
<text x="315.3" y="111.15" font-size="9.3" text-anchor="end" fill="#2a2a2a" textLength="14.68" lengthAdjust="spacingAndGlyphs" stroke="#2a2a2a" stroke-width="0.25" >100</text>
<line x1="319.25" y1="67.1" x2="322.85" y2="67.1" stroke="#111" stroke-width="1.2" />
<text x="315.3" y="70.15" font-size="9.3" text-anchor="end" fill="#2a2a2a" textLength="14.68" lengthAdjust="spacingAndGlyphs" stroke="#2a2a2a" stroke-width="0.25" >200</text>
<line x1="319.25" y1="26.1" x2="322.85" y2="26.1" stroke="#111" stroke-width="1.2" />
<text x="315.3" y="29.15" font-size="9.3" text-anchor="end" fill="#2a2a2a" textLength="14.68" lengthAdjust="spacingAndGlyphs" stroke="#2a2a2a" stroke-width="0.25" >300</text>
<line x1="322.7" y1="149.2" x2="322.7" y2="152.8" stroke="#111" stroke-width="1.2" />
<text x="322.7" y="163.8" font-size="9.3" text-anchor="middle" fill="#2a2a2a" textLength="4.89" lengthAdjust="spacingAndGlyphs" stroke="#2a2a2a" stroke-width="0.25" >0</text>
<line x1="353" y1="149.2" x2="353" y2="152.8" stroke="#111" stroke-width="1.2" />
<text x="353" y="163.8" font-size="9.3" text-anchor="middle" fill="#2a2a2a" textLength="4.89" lengthAdjust="spacingAndGlyphs" stroke="#2a2a2a" stroke-width="0.25" >6</text>
<line x1="383.3" y1="149.2" x2="383.3" y2="152.8" stroke="#111" stroke-width="1.2" />
<text x="383.3" y="163.8" font-size="9.3" text-anchor="middle" fill="#2a2a2a" textLength="9.79" lengthAdjust="spacingAndGlyphs" stroke="#2a2a2a" stroke-width="0.25" >12</text>
<line x1="413.6" y1="149.2" x2="413.6" y2="152.8" stroke="#111" stroke-width="1.2" />
<text x="413.6" y="163.8" font-size="9.3" text-anchor="middle" fill="#2a2a2a" textLength="9.79" lengthAdjust="spacingAndGlyphs" stroke="#2a2a2a" stroke-width="0.25" >18</text>
<line x1="443.9" y1="149.2" x2="443.9" y2="152.8" stroke="#111" stroke-width="1.2" />
<text x="443.9" y="163.8" font-size="9.3" text-anchor="middle" fill="#2a2a2a" textLength="9.79" lengthAdjust="spacingAndGlyphs" stroke="#2a2a2a" stroke-width="0.25" >24</text>
<line x1="474.2" y1="149.2" x2="474.2" y2="152.8" stroke="#111" stroke-width="1.2" />
<text x="474.2" y="163.8" font-size="9.3" text-anchor="middle" fill="#2a2a2a" textLength="9.79" lengthAdjust="spacingAndGlyphs" stroke="#2a2a2a" stroke-width="0.25" >30</text>
<line x1="504.5" y1="149.2" x2="504.5" y2="152.8" stroke="#111" stroke-width="1.2" />
<text x="504.5" y="163.8" font-size="9.3" text-anchor="middle" fill="#2a2a2a" textLength="9.79" lengthAdjust="spacingAndGlyphs" stroke="#2a2a2a" stroke-width="0.25" >36</text>
<text x="295.6" y="85.8" font-size="10.5" text-anchor="middle" fill="#2a2a2a" textLength="97.1" lengthAdjust="spacingAndGlyphs" transform="rotate(-90 295.6 85.8)" stroke="#2a2a2a" stroke-width="0.35" >Fluorescence intensity</text>
<text x="417.7" y="178.9" font-size="10.5" text-anchor="middle" fill="#2a2a2a" textLength="96.1" lengthAdjust="spacingAndGlyphs" stroke="#2a2a2a" stroke-width="0.35" >Month post transplant</text>
<text x="466.7" y="29.9" font-size="8.2" text-anchor="middle" fill="#2a2a2a" textLength="28.5" lengthAdjust="spacingAndGlyphs" stroke="#2a2a2a" stroke-width="0.25" >cGVHD</text>
<text x="466.4" y="39.3" font-size="8.2" text-anchor="middle" fill="#2a2a2a" textLength="23.2" lengthAdjust="spacingAndGlyphs" stroke="#2a2a2a" stroke-width="0.25" >(n=30)</text>
<text x="273.2" y="16.6" font-size="12.5" text-anchor="start" fill="#000" font-weight="bold" textLength="8.4" lengthAdjust="spacingAndGlyphs" stroke="#000" stroke-width="0.3" >B</text>
<polyline points="61.92,304.75 66.95,302.29 77,313.36 87.05,309.87 97.1,303.11 107.15,313.36 117.2,305.77 127.25,301.06 137.3,311.31 147.35,313.36 157.4,295.93 167.45,302.49 177.5,294.29 187.55,311.1 197.6,317.87 207.65,318.48 217.7,327.5 227.75,313.36 237.8,306.8" fill="none" stroke="#5a9040" stroke-width="1.7" stroke-linejoin="round" opacity="1.0"/>
<rect x="60.42" y="303.25" width="3" height="3" fill="#5a9040" opacity="1.0"/>
<rect x="65.45" y="300.79" width="3" height="3" fill="#5a9040" opacity="1.0"/>
<rect x="75.5" y="311.86" width="3" height="3" fill="#5a9040" opacity="1.0"/>
<rect x="85.55" y="308.37" width="3" height="3" fill="#5a9040" opacity="1.0"/>
<rect x="95.6" y="301.61" width="3" height="3" fill="#5a9040" opacity="1.0"/>
<rect x="105.65" y="311.86" width="3" height="3" fill="#5a9040" opacity="1.0"/>
<rect x="115.7" y="304.27" width="3" height="3" fill="#5a9040" opacity="1.0"/>
<rect x="125.75" y="299.56" width="3" height="3" fill="#5a9040" opacity="1.0"/>
<rect x="135.8" y="309.81" width="3" height="3" fill="#5a9040" opacity="1.0"/>
<rect x="145.85" y="311.86" width="3" height="3" fill="#5a9040" opacity="1.0"/>
<rect x="155.9" y="294.43" width="3" height="3" fill="#5a9040" opacity="1.0"/>
<rect x="165.95" y="300.99" width="3" height="3" fill="#5a9040" opacity="1.0"/>
<rect x="176" y="292.79" width="3" height="3" fill="#5a9040" opacity="1.0"/>
<rect x="186.05" y="309.6" width="3" height="3" fill="#5a9040" opacity="1.0"/>
<rect x="196.1" y="316.37" width="3" height="3" fill="#5a9040" opacity="1.0"/>
<rect x="206.15" y="316.98" width="3" height="3" fill="#5a9040" opacity="1.0"/>
<rect x="216.2" y="326" width="3" height="3" fill="#5a9040" opacity="1.0"/>
<rect x="226.25" y="311.86" width="3" height="3" fill="#5a9040" opacity="1.0"/>
<rect x="236.3" y="305.3" width="3" height="3" fill="#5a9040" opacity="1.0"/>
<polyline points="61.92,287.73 66.95,283.22 77,291.42 87.05,262.31 97.1,246.53 107.15,263.34 117.2,277.07 127.25,272.36 137.3,278.3 147.35,265.59 157.4,264.16 167.45,258.42 177.5,245.71 187.55,270.31 197.6,264.57 207.65,276.46 217.7,289.17 227.75,267.44 237.8,271.33" fill="none" stroke="#7e0e34" stroke-width="1.7" stroke-linejoin="round" opacity="1.0"/>
<rect x="60.42" y="286.23" width="3" height="3" fill="#7e0e34" opacity="1.0"/>
<rect x="65.45" y="281.72" width="3" height="3" fill="#7e0e34" opacity="1.0"/>
<rect x="75.5" y="289.92" width="3" height="3" fill="#7e0e34" opacity="1.0"/>
<rect x="85.55" y="260.81" width="3" height="3" fill="#7e0e34" opacity="1.0"/>
<rect x="95.6" y="245.03" width="3" height="3" fill="#7e0e34" opacity="1.0"/>
<rect x="105.65" y="261.84" width="3" height="3" fill="#7e0e34" opacity="1.0"/>
<rect x="115.7" y="275.57" width="3" height="3" fill="#7e0e34" opacity="1.0"/>
<rect x="125.75" y="270.86" width="3" height="3" fill="#7e0e34" opacity="1.0"/>
<rect x="135.8" y="276.8" width="3" height="3" fill="#7e0e34" opacity="1.0"/>
<rect x="145.85" y="264.09" width="3" height="3" fill="#7e0e34" opacity="1.0"/>
<rect x="155.9" y="262.66" width="3" height="3" fill="#7e0e34" opacity="1.0"/>
<rect x="165.95" y="256.92" width="3" height="3" fill="#7e0e34" opacity="1.0"/>
<rect x="176" y="244.21" width="3" height="3" fill="#7e0e34" opacity="1.0"/>
<rect x="186.05" y="268.81" width="3" height="3" fill="#7e0e34" opacity="1.0"/>
<rect x="196.1" y="263.07" width="3" height="3" fill="#7e0e34" opacity="1.0"/>
<rect x="206.15" y="274.96" width="3" height="3" fill="#7e0e34" opacity="1.0"/>
<rect x="216.2" y="287.67" width="3" height="3" fill="#7e0e34" opacity="1.0"/>
<rect x="226.25" y="265.94" width="3" height="3" fill="#7e0e34" opacity="1.0"/>
<rect x="236.3" y="269.83" width="3" height="3" fill="#7e0e34" opacity="1.0"/>
<line x1="57.05" y1="225.3" x2="57.05" y2="353.3" stroke="#111" stroke-width="1.6" />
<line x1="56.25" y1="352.5" x2="241.4" y2="352.5" stroke="#111" stroke-width="1.6" />
<line x1="53.45" y1="352.5" x2="57.05" y2="352.5" stroke="#111" stroke-width="1.2" />
<text x="50.2" y="355.55" font-size="9.3" text-anchor="end" fill="#2a2a2a" textLength="4.89" lengthAdjust="spacingAndGlyphs" stroke="#2a2a2a" stroke-width="0.25" >0</text>
<line x1="53.45" y1="311.43" x2="57.05" y2="311.43" stroke="#111" stroke-width="1.2" />
<text x="50.2" y="314.48" font-size="9.3" text-anchor="end" fill="#2a2a2a" textLength="9.79" lengthAdjust="spacingAndGlyphs" stroke="#2a2a2a" stroke-width="0.25" >20</text>
<line x1="53.45" y1="270.37" x2="57.05" y2="270.37" stroke="#111" stroke-width="1.2" />
<text x="50.2" y="273.42" font-size="9.3" text-anchor="end" fill="#2a2a2a" textLength="9.79" lengthAdjust="spacingAndGlyphs" stroke="#2a2a2a" stroke-width="0.25" >40</text>
<line x1="53.45" y1="229.3" x2="57.05" y2="229.3" stroke="#111" stroke-width="1.2" />
<text x="50.2" y="232.35" font-size="9.3" text-anchor="end" fill="#2a2a2a" textLength="9.79" lengthAdjust="spacingAndGlyphs" stroke="#2a2a2a" stroke-width="0.25" >60</text>
<line x1="56.9" y1="352.5" x2="56.9" y2="356.1" stroke="#111" stroke-width="1.2" />
<text x="56.9" y="367.7" font-size="9.3" text-anchor="middle" fill="#2a2a2a" textLength="4.89" lengthAdjust="spacingAndGlyphs" stroke="#2a2a2a" stroke-width="0.25" >0</text>
<line x1="87.05" y1="352.5" x2="87.05" y2="356.1" stroke="#111" stroke-width="1.2" />
<text x="87.05" y="367.7" font-size="9.3" text-anchor="middle" fill="#2a2a2a" textLength="4.89" lengthAdjust="spacingAndGlyphs" stroke="#2a2a2a" stroke-width="0.25" >6</text>
<line x1="117.2" y1="352.5" x2="117.2" y2="356.1" stroke="#111" stroke-width="1.2" />
<text x="117.2" y="367.7" font-size="9.3" text-anchor="middle" fill="#2a2a2a" textLength="9.79" lengthAdjust="spacingAndGlyphs" stroke="#2a2a2a" stroke-width="0.25" >12</text>
<line x1="147.35" y1="352.5" x2="147.35" y2="356.1" stroke="#111" stroke-width="1.2" />
<text x="147.35" y="367.7" font-size="9.3" text-anchor="middle" fill="#2a2a2a" textLength="9.79" lengthAdjust="spacingAndGlyphs" stroke="#2a2a2a" stroke-width="0.25" >18</text>
<line x1="177.5" y1="352.5" x2="177.5" y2="356.1" stroke="#111" stroke-width="1.2" />
<text x="177.5" y="367.7" font-size="9.3" text-anchor="middle" fill="#2a2a2a" textLength="9.79" lengthAdjust="spacingAndGlyphs" stroke="#2a2a2a" stroke-width="0.25" >24</text>
<line x1="207.65" y1="352.5" x2="207.65" y2="356.1" stroke="#111" stroke-width="1.2" />
<text x="207.65" y="367.7" font-size="9.3" text-anchor="middle" fill="#2a2a2a" textLength="9.79" lengthAdjust="spacingAndGlyphs" stroke="#2a2a2a" stroke-width="0.25" >30</text>
<line x1="237.8" y1="352.5" x2="237.8" y2="356.1" stroke="#111" stroke-width="1.2" />
<text x="237.8" y="367.7" font-size="9.3" text-anchor="middle" fill="#2a2a2a" textLength="9.79" lengthAdjust="spacingAndGlyphs" stroke="#2a2a2a" stroke-width="0.25" >36</text>
<text x="34.2" y="289.6" font-size="10.5" text-anchor="middle" fill="#2a2a2a" textLength="97.1" lengthAdjust="spacingAndGlyphs" transform="rotate(-90 34.2 289.6)" stroke="#2a2a2a" stroke-width="0.35" >Fluorescence intensity</text>
<text x="149.5" y="383" font-size="10.5" text-anchor="middle" fill="#2a2a2a" textLength="95.9" lengthAdjust="spacingAndGlyphs" stroke="#2a2a2a" stroke-width="0.35" >Month post transplant</text>
<line x1="199.1" y1="218.9" x2="209.9" y2="218.9" stroke="#5a9040" stroke-width="1.3" />
<rect x="203.2" y="217.6" width="2.6" height="2.6" fill="#5a9040"/>
<line x1="199.1" y1="233.4" x2="209.9" y2="233.4" stroke="#7e0e34" stroke-width="1.3" />
<rect x="203.2" y="232.1" width="2.6" height="2.6" fill="#7e0e34"/>
<text x="214" y="221.9" font-size="8.2" text-anchor="start" fill="#2a2a2a" textLength="41.6" lengthAdjust="spacingAndGlyphs" stroke="#2a2a2a" stroke-width="0.25" >No cGVHD</text>
<text x="214" y="236.4" font-size="8.2" text-anchor="start" fill="#2a2a2a" textLength="28.3" lengthAdjust="spacingAndGlyphs" stroke="#2a2a2a" stroke-width="0.25" >cGVHD</text>
<text x="7.4" y="207.6" font-size="12.5" text-anchor="start" fill="#000" font-weight="bold" textLength="8.6" lengthAdjust="spacingAndGlyphs" stroke="#000" stroke-width="0.3" >C</text>
<line x1="354" y1="267.5" x2="443" y2="267.5" stroke="#111" stroke-width="1.2" stroke-dasharray="2.7 1.7"/>
<line x1="359" y1="304.4" x2="446.5" y2="304.4" stroke="#111" stroke-width="1.3" stroke-dasharray="2.7 1.7"/>
<line x1="358.3" y1="272" x2="358.3" y2="281" stroke="#111" stroke-width="1.1" />
<line x1="358.3" y1="289.5" x2="358.3" y2="300" stroke="#111" stroke-width="1.1" />
<path d="M358.2,268.4 L355.6,274.6 L360.8,274.6 Z" fill="#111"/>
<path d="M358.2,303.6 L355.6,297.2 L360.8,297.2 Z" fill="#111"/>
<text x="358.3" y="288" font-size="8.2" text-anchor="middle" fill="#2a2a2a" stroke="#2a2a2a" stroke-width="0.25" >P</text>
<polyline points="340.42,302.55 358.24,304.84 376.06,300.11 393.88,272.31 411.7,267.57 429.52,285.9 447.34,288.35 465.16,293.69 482.98,287.12 500.8,282.85" fill="none" stroke="#7e0e34" stroke-width="1.7" stroke-linejoin="round" opacity="1.0"/>
<circle cx="340.42" cy="302.55" r="1.7" fill="#7e0e34"/>
<circle cx="358.24" cy="304.84" r="1.7" fill="#7e0e34"/>
<circle cx="376.06" cy="300.11" r="1.7" fill="#7e0e34"/>
<circle cx="393.88" cy="272.31" r="1.7" fill="#7e0e34"/>
<circle cx="411.7" cy="267.57" r="1.7" fill="#7e0e34"/>
<circle cx="429.52" cy="285.9" r="1.7" fill="#7e0e34"/>
<circle cx="447.34" cy="288.35" r="1.7" fill="#7e0e34"/>
<circle cx="465.16" cy="293.69" r="1.7" fill="#7e0e34"/>
<circle cx="482.98" cy="287.12" r="1.7" fill="#7e0e34"/>
<circle cx="500.8" cy="282.85" r="1.7" fill="#7e0e34"/>
<line x1="322.85" y1="227" x2="322.85" y2="353.3" stroke="#111" stroke-width="1.6" />
<line x1="322.05" y1="352.5" x2="504" y2="352.5" stroke="#111" stroke-width="1.6" />
<line x1="319.25" y1="352.5" x2="322.85" y2="352.5" stroke="#111" stroke-width="1.2" />
<text x="315.8" y="355.55" font-size="9.3" text-anchor="end" fill="#2a2a2a" textLength="4.89" lengthAdjust="spacingAndGlyphs" stroke="#2a2a2a" stroke-width="0.25" >0</text>
<line x1="319.25" y1="321.95" x2="322.85" y2="321.95" stroke="#111" stroke-width="1.2" />
<text x="315.8" y="325" font-size="9.3" text-anchor="end" fill="#2a2a2a" textLength="9.79" lengthAdjust="spacingAndGlyphs" stroke="#2a2a2a" stroke-width="0.25" >20</text>
<line x1="319.25" y1="291.4" x2="322.85" y2="291.4" stroke="#111" stroke-width="1.2" />
<text x="315.8" y="294.45" font-size="9.3" text-anchor="end" fill="#2a2a2a" textLength="9.79" lengthAdjust="spacingAndGlyphs" stroke="#2a2a2a" stroke-width="0.25" >40</text>
<line x1="319.25" y1="260.85" x2="322.85" y2="260.85" stroke="#111" stroke-width="1.2" />
<text x="315.8" y="263.9" font-size="9.3" text-anchor="end" fill="#2a2a2a" textLength="9.79" lengthAdjust="spacingAndGlyphs" stroke="#2a2a2a" stroke-width="0.25" >60</text>
<line x1="319.25" y1="230.3" x2="322.85" y2="230.3" stroke="#111" stroke-width="1.2" />
<text x="315.8" y="233.35" font-size="9.3" text-anchor="end" fill="#2a2a2a" textLength="9.79" lengthAdjust="spacingAndGlyphs" stroke="#2a2a2a" stroke-width="0.25" >80</text>
<line x1="322.6" y1="352.5" x2="322.6" y2="356.1" stroke="#111" stroke-width="1.2" />
<text x="322.6" y="367.7" font-size="9.3" text-anchor="middle" fill="#2a2a2a" textLength="12.72" lengthAdjust="spacingAndGlyphs" stroke="#2a2a2a" stroke-width="0.25" >-10</text>
<line x1="367.15" y1="352.5" x2="367.15" y2="356.1" stroke="#111" stroke-width="1.2" />
<text x="367.15" y="367.7" font-size="9.3" text-anchor="middle" fill="#2a2a2a" textLength="7.82" lengthAdjust="spacingAndGlyphs" stroke="#2a2a2a" stroke-width="0.25" >-5</text>
<text x="411.7" y="367.7" font-size="9.3" text-anchor="middle" fill="#2a2a2a" textLength="4.89" lengthAdjust="spacingAndGlyphs" stroke="#2a2a2a" stroke-width="0.25" >0</text>
<line x1="456.25" y1="352.5" x2="456.25" y2="356.1" stroke="#111" stroke-width="1.2" />
<text x="456.25" y="367.7" font-size="9.3" text-anchor="middle" fill="#2a2a2a" textLength="4.89" lengthAdjust="spacingAndGlyphs" stroke="#2a2a2a" stroke-width="0.25" >5</text>
<line x1="500.8" y1="352.5" x2="500.8" y2="356.1" stroke="#111" stroke-width="1.2" />
<text x="500.8" y="367.7" font-size="9.3" text-anchor="middle" fill="#2a2a2a" textLength="9.79" lengthAdjust="spacingAndGlyphs" stroke="#2a2a2a" stroke-width="0.25" >10</text>
<text x="299.5" y="289.7" font-size="10.5" text-anchor="middle" fill="#2a2a2a" textLength="97.3" lengthAdjust="spacingAndGlyphs" transform="rotate(-90 299.5 289.7)" stroke="#2a2a2a" stroke-width="0.35" >Fluorescence intensity</text>
<text x="413.7" y="382.8" font-size="10.5" text-anchor="middle" fill="#2a2a2a" textLength="111.8" lengthAdjust="spacingAndGlyphs" stroke="#2a2a2a" stroke-width="0.35" >Month from cGVHD onset</text>
<text x="475.3" y="243" font-size="8.2" text-anchor="middle" fill="#2a2a2a" textLength="28.6" lengthAdjust="spacingAndGlyphs" stroke="#2a2a2a" stroke-width="0.25" >cGVHD</text>
<line x1="411.6" y1="235" x2="411.6" y2="356.2" stroke="#6d98c0" stroke-width="1.2" stroke-dasharray="4.6 3.6 1.1 4.0" stroke-dashoffset="3.3"/>
<text x="273" y="207.6" font-size="12.5" text-anchor="start" fill="#000" font-weight="bold" textLength="8.6" lengthAdjust="spacingAndGlyphs" stroke="#000" stroke-width="0.3" >D</text>
<rect x="0" y="0" width="520" height="1.5" fill="#000"/>
<rect x="0" y="0" width="1.5" height="393" fill="#000"/>
<rect x="518.4" y="0" width="1.6" height="393" fill="#000"/>
<rect x="0" y="390.9" width="520" height="2.1" fill="#000"/>
</svg>
</body></html>
